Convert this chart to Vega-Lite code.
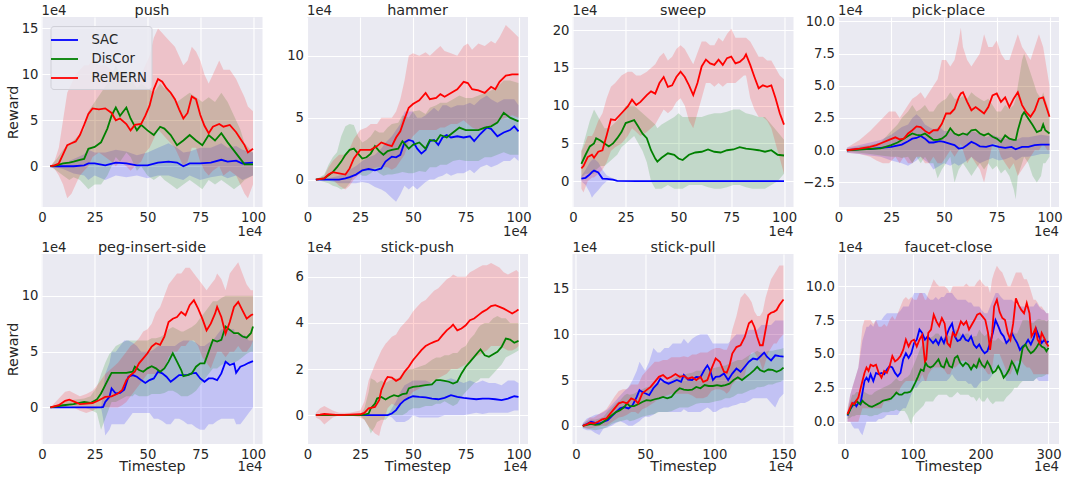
{
"$schema":"https://vega.github.io/schema/vega-lite/v6.json",
"padding":{"left":5.5,"top":3,"right":5,"bottom":5},
"config":{
"view":{"fill":"#EAEAF2","stroke":null},
"axis":{"domain":false,"ticks":false,"tickSize":0,"tickCount":10,"grid":true,"gridColor":"#FFFFFF","gridWidth":1.1,"labelFont":"DejaVu Sans","labelFontSize":13.2,"labelColor":"#262626","titleFont":"DejaVu Sans","titleFontSize":14.4,"titleFontWeight":"normal","titleColor":"#262626","labelPadding":4,"labelOverlap":false,"labelFlush":false,"labelBound":false},
"axisY":{"labelPadding":3.5,"titlePadding":0.5,"labelOverlap":false},
"axisX":{"titleBaseline":"alphabetic","titlePadding":10.5},
"title":{"font":"DejaVu Sans","fontSize":14.4,"fontWeight":"normal","color":"#262626","offset":2.5,"baseline":"alphabetic","frame":"group","dy":17},
"text":{"font":"DejaVu Sans","fontSize":13.2,"color":"#262626"},
"area":{"opacity":0.17},
"line":{"strokeWidth":1.8}
},
"datasets":{
"push":[
{"m":"SAC","x":4,"y":0,"lo":0,"hi":0},{"m":"SAC","x":10,"y":0,"lo":-0.3,"hi":0.3},{"m":"SAC","x":15,"y":0,"lo":-0.8,"hi":0.8},{"m":"SAC","x":20,"y":0.1,"lo":-1,"hi":1.3},{"m":"SAC","x":22,"y":0.3,"lo":-1.5,"hi":1.8},{"m":"SAC","x":25,"y":0.3,"lo":-1,"hi":1.5},{"m":"SAC","x":30,"y":0.1,"lo":-1.5,"hi":1.5},{"m":"SAC","x":35,"y":0.4,"lo":-1,"hi":1.8},{"m":"SAC","x":40,"y":0.3,"lo":-1.2,"hi":1.6},{"m":"SAC","x":45,"y":0.1,"lo":-1,"hi":1.2},{"m":"SAC","x":50,"y":0.1,"lo":-1.3,"hi":1.5},{"m":"SAC","x":55,"y":0.4,"lo":-1,"hi":2},{"m":"SAC","x":60,"y":0.5,"lo":-1,"hi":2.5},{"m":"SAC","x":64,"y":0.4,"lo":-1.3,"hi":2},{"m":"SAC","x":67,"y":0,"lo":-1.5,"hi":1.5},{"m":"SAC","x":70,"y":0.3,"lo":-1,"hi":1.6},{"m":"SAC","x":75,"y":0.3,"lo":-1.5,"hi":2},{"m":"SAC","x":80,"y":0.4,"lo":-1.2,"hi":2},{"m":"SAC","x":85,"y":0.7,"lo":-1,"hi":2.5},{"m":"SAC","x":88,"y":0.5,"lo":-1.3,"hi":2},{"m":"SAC","x":92,"y":0.6,"lo":-1,"hi":2.2},{"m":"SAC","x":95,"y":0.3,"lo":-1.5,"hi":1.8},{"m":"SAC","x":100,"y":0.4,"lo":-1,"hi":1.5},
{"m":"DisCor","x":4,"y":0,"lo":0,"hi":0},{"m":"DisCor","x":7,"y":0.1,"lo":-0.5,"hi":0.8},{"m":"DisCor","x":10,"y":0.3,"lo":-1,"hi":1.8},{"m":"DisCor","x":13,"y":0.4,"lo":-1.5,"hi":2.5},{"m":"DisCor","x":15,"y":0.5,"lo":-1.2,"hi":2.8},{"m":"DisCor","x":18,"y":0.7,"lo":-1.5,"hi":3.5},{"m":"DisCor","x":20,"y":0.8,"lo":-2,"hi":4},{"m":"DisCor","x":22,"y":1.9,"lo":-2.5,"hi":6},{"m":"DisCor","x":25,"y":2.1,"lo":-2,"hi":7},{"m":"DisCor","x":28,"y":2.6,"lo":-2,"hi":8},{"m":"DisCor","x":31,"y":4.1,"lo":-1,"hi":9},{"m":"DisCor","x":33,"y":5.5,"lo":0,"hi":10},{"m":"DisCor","x":35,"y":6.4,"lo":1,"hi":11},{"m":"DisCor","x":37,"y":5.5,"lo":0.5,"hi":10},{"m":"DisCor","x":40,"y":6.4,"lo":1.5,"hi":10.5},{"m":"DisCor","x":42,"y":5.2,"lo":1,"hi":9.5},{"m":"DisCor","x":45,"y":3.9,"lo":-0.5,"hi":8.5},{"m":"DisCor","x":47,"y":4.5,"lo":0,"hi":9},{"m":"DisCor","x":50,"y":3.9,"lo":-1,"hi":8.5},{"m":"DisCor","x":53,"y":3.4,"lo":-1.5,"hi":8},{"m":"DisCor","x":56,"y":4.3,"lo":-1,"hi":9},{"m":"DisCor","x":58,"y":4.1,"lo":-1.5,"hi":8.5},{"m":"DisCor","x":61,"y":3.4,"lo":-2,"hi":8},{"m":"DisCor","x":64,"y":2.3,"lo":-2.5,"hi":7},{"m":"DisCor","x":67,"y":2.8,"lo":-2,"hi":7.5},{"m":"DisCor","x":70,"y":3.4,"lo":-1.5,"hi":8},{"m":"DisCor","x":73,"y":2.8,"lo":-2,"hi":7.5},{"m":"DisCor","x":76,"y":2.3,"lo":-2.5,"hi":7},{"m":"DisCor","x":79,"y":3.4,"lo":-1.5,"hi":7.5},{"m":"DisCor","x":82,"y":2.8,"lo":-2,"hi":7},{"m":"DisCor","x":85,"y":3.6,"lo":-1.5,"hi":8},{"m":"DisCor","x":88,"y":2.6,"lo":-2,"hi":7},{"m":"DisCor","x":91,"y":1.7,"lo":-2.5,"hi":5.5},{"m":"DisCor","x":94,"y":0.8,"lo":-2,"hi":4},{"m":"DisCor","x":96,"y":0.2,"lo":-1.5,"hi":2.5},{"m":"DisCor","x":100,"y":0.2,"lo":-1,"hi":1.5},
{"m":"ReMERN","x":4,"y":0,"lo":0,"hi":0},{"m":"ReMERN","x":6,"y":0.1,"lo":-0.3,"hi":0.6},{"m":"ReMERN","x":8,"y":0.3,"lo":-1,"hi":2},{"m":"ReMERN","x":10,"y":1.3,"lo":-2,"hi":5},{"m":"ReMERN","x":12,"y":2.3,"lo":-3.5,"hi":8},{"m":"ReMERN","x":14,"y":2.5,"lo":-3,"hi":9},{"m":"ReMERN","x":16,"y":2.7,"lo":-2,"hi":10},{"m":"ReMERN","x":18,"y":3.4,"lo":-1,"hi":10.5},{"m":"ReMERN","x":20,"y":4.5,"lo":-0.5,"hi":11},{"m":"ReMERN","x":22,"y":5.7,"lo":0,"hi":11},{"m":"ReMERN","x":24,"y":6.3,"lo":1,"hi":11.5},{"m":"ReMERN","x":27,"y":6.2,"lo":1.5,"hi":11},{"m":"ReMERN","x":30,"y":6.3,"lo":1,"hi":11},{"m":"ReMERN","x":33,"y":5.8,"lo":0.5,"hi":10.5},{"m":"ReMERN","x":35,"y":5,"lo":0,"hi":10},{"m":"ReMERN","x":37,"y":5.2,"lo":0.5,"hi":10.5},{"m":"ReMERN","x":40,"y":4.6,"lo":0,"hi":10},{"m":"ReMERN","x":42,"y":3.9,"lo":-0.5,"hi":9},{"m":"ReMERN","x":44,"y":4.5,"lo":0,"hi":9.5},{"m":"ReMERN","x":47,"y":4.6,"lo":0.5,"hi":10},{"m":"ReMERN","x":49,"y":5.5,"lo":1.5,"hi":11},{"m":"ReMERN","x":51,"y":6.6,"lo":2,"hi":12},{"m":"ReMERN","x":53,"y":8.4,"lo":3,"hi":14},{"m":"ReMERN","x":55,"y":9.5,"lo":4,"hi":15},{"m":"ReMERN","x":57,"y":9.2,"lo":3.5,"hi":14.5},{"m":"ReMERN","x":59,"y":8.5,"lo":3,"hi":14},{"m":"ReMERN","x":61,"y":8,"lo":2.5,"hi":13.5},{"m":"ReMERN","x":63,"y":7.3,"lo":2,"hi":13},{"m":"ReMERN","x":65,"y":6.2,"lo":1,"hi":12},{"m":"ReMERN","x":67,"y":5.2,"lo":0,"hi":11},{"m":"ReMERN","x":69,"y":5.8,"lo":0.5,"hi":11.5},{"m":"ReMERN","x":71,"y":7.6,"lo":2,"hi":13},{"m":"ReMERN","x":73,"y":7.3,"lo":2,"hi":12.5},{"m":"ReMERN","x":75,"y":5.6,"lo":0.5,"hi":11.5},{"m":"ReMERN","x":77,"y":4.4,"lo":-0.5,"hi":10},{"m":"ReMERN","x":79,"y":3.6,"lo":-1,"hi":9},{"m":"ReMERN","x":81,"y":4.3,"lo":-0.5,"hi":10},{"m":"ReMERN","x":84,"y":4.6,"lo":0,"hi":11.5},{"m":"ReMERN","x":86,"y":4.3,"lo":-1,"hi":10.5},{"m":"ReMERN","x":89,"y":4.5,"lo":-0.5,"hi":10.5},{"m":"ReMERN","x":92,"y":3.7,"lo":-1,"hi":9.5},{"m":"ReMERN","x":94,"y":3,"lo":-2,"hi":8.5},{"m":"ReMERN","x":96,"y":2.3,"lo":-3,"hi":7.5},{"m":"ReMERN","x":97.6,"y":1.5,"lo":-3.5,"hi":6.5},{"m":"ReMERN","x":100,"y":1.9,"lo":-2,"hi":6}
],
"hammer":[
{"m":"SAC","x":4,"y":0,"lo":0,"hi":0},{"m":"SAC","x":10,"y":0,"lo":-0.1,"hi":0.1},{"m":"SAC","x":15,"y":0,"lo":-0.3,"hi":0.3},{"m":"SAC","x":18,"y":0.1,"lo":-0.3,"hi":0.5},{"m":"SAC","x":20,"y":0.2,"lo":-0.3,"hi":0.8},{"m":"SAC","x":23,"y":0.4,"lo":-0.3,"hi":1.1},{"m":"SAC","x":26,"y":0.75,"lo":-0.2,"hi":1.5},{"m":"SAC","x":29,"y":0.85,"lo":-0.3,"hi":1.8},{"m":"SAC","x":32,"y":0.75,"lo":-0.6,"hi":2},{"m":"SAC","x":35,"y":0.9,"lo":-0.8,"hi":2.5},{"m":"SAC","x":37,"y":1.45,"lo":-1,"hi":3},{"m":"SAC","x":40,"y":1.85,"lo":-1.5,"hi":3.5},{"m":"SAC","x":42,"y":1.8,"lo":-1.8,"hi":4},{"m":"SAC","x":44,"y":2,"lo":-1.2,"hi":4.5},{"m":"SAC","x":46,"y":3,"lo":-0.5,"hi":5.5},{"m":"SAC","x":48,"y":3.2,"lo":-0.8,"hi":5.5},{"m":"SAC","x":50,"y":3.1,"lo":-0.5,"hi":5.5},{"m":"SAC","x":52,"y":2.5,"lo":-0.8,"hi":5},{"m":"SAC","x":54,"y":2.1,"lo":-0.5,"hi":5},{"m":"SAC","x":56,"y":2.4,"lo":-0.2,"hi":5.2},{"m":"SAC","x":58,"y":3.1,"lo":0,"hi":5.5},{"m":"SAC","x":60,"y":3.2,"lo":0,"hi":5.8},{"m":"SAC","x":62,"y":2.8,"lo":0.2,"hi":5.5},{"m":"SAC","x":64,"y":3.4,"lo":0.3,"hi":6},{"m":"SAC","x":66,"y":3.6,"lo":0.5,"hi":6},{"m":"SAC","x":68,"y":3.4,"lo":0.3,"hi":5.8},{"m":"SAC","x":71,"y":3.5,"lo":0.5,"hi":6},{"m":"SAC","x":74,"y":3.4,"lo":0.5,"hi":6},{"m":"SAC","x":77,"y":3.5,"lo":0.8,"hi":6.2},{"m":"SAC","x":79,"y":3.1,"lo":0.5,"hi":6},{"m":"SAC","x":82,"y":3.7,"lo":1,"hi":6.5},{"m":"SAC","x":85,"y":4.2,"lo":1.2,"hi":6.8},{"m":"SAC","x":87,"y":4.1,"lo":1,"hi":6.5},{"m":"SAC","x":90,"y":3.5,"lo":1.2,"hi":6.2},{"m":"SAC","x":93,"y":3.8,"lo":1.5,"hi":6.5},{"m":"SAC","x":96,"y":4,"lo":1.5,"hi":6.5},{"m":"SAC","x":98,"y":4.3,"lo":1.8,"hi":6.5},{"m":"SAC","x":100,"y":3.9,"lo":1.5,"hi":6},
{"m":"DisCor","x":4,"y":0,"lo":0,"hi":0},{"m":"DisCor","x":8,"y":0.1,"lo":-0.2,"hi":0.4},{"m":"DisCor","x":10,"y":0.35,"lo":-0.3,"hi":1.2},{"m":"DisCor","x":12,"y":0.6,"lo":-0.5,"hi":1.8},{"m":"DisCor","x":14,"y":1,"lo":-0.6,"hi":2.2},{"m":"DisCor","x":16,"y":1.45,"lo":-0.8,"hi":3.5},{"m":"DisCor","x":18,"y":2,"lo":-0.7,"hi":4.3},{"m":"DisCor","x":20,"y":2.4,"lo":-0.3,"hi":4.5},{"m":"DisCor","x":22,"y":2.5,"lo":0.3,"hi":4.4},{"m":"DisCor","x":24,"y":2.1,"lo":0.5,"hi":3.5},{"m":"DisCor","x":26,"y":1.7,"lo":0.3,"hi":3},{"m":"DisCor","x":28,"y":1.8,"lo":0.3,"hi":3.2},{"m":"DisCor","x":30,"y":2.1,"lo":0.5,"hi":3.5},{"m":"DisCor","x":32,"y":2.7,"lo":0.8,"hi":4},{"m":"DisCor","x":34,"y":2.3,"lo":0.5,"hi":3.8},{"m":"DisCor","x":36,"y":2,"lo":0.3,"hi":3.8},{"m":"DisCor","x":38,"y":2.3,"lo":0.4,"hi":4.2},{"m":"DisCor","x":40,"y":2.4,"lo":0.4,"hi":4.5},{"m":"DisCor","x":43,"y":2.5,"lo":0.5,"hi":4.6},{"m":"DisCor","x":45,"y":3.1,"lo":0.6,"hi":5.2},{"m":"DisCor","x":48,"y":2.5,"lo":0.5,"hi":5},{"m":"DisCor","x":50,"y":2.8,"lo":0.5,"hi":5.5},{"m":"DisCor","x":53,"y":3,"lo":0.7,"hi":5.6},{"m":"DisCor","x":56,"y":2.5,"lo":0.6,"hi":5.3},{"m":"DisCor","x":58,"y":3.2,"lo":1,"hi":5.8},{"m":"DisCor","x":61,"y":3.1,"lo":1,"hi":6},{"m":"DisCor","x":63,"y":3.6,"lo":1.2,"hi":6.2},{"m":"DisCor","x":66,"y":3.4,"lo":1.2,"hi":6.2},{"m":"DisCor","x":69,"y":3.8,"lo":1.5,"hi":6.5},{"m":"DisCor","x":72,"y":4.2,"lo":1.6,"hi":6.8},{"m":"DisCor","x":75,"y":4,"lo":1.5,"hi":6.6},{"m":"DisCor","x":78,"y":4,"lo":1.5,"hi":6.6},{"m":"DisCor","x":81,"y":4,"lo":1.5,"hi":6.8},{"m":"DisCor","x":84,"y":4.2,"lo":1.8,"hi":7},{"m":"DisCor","x":87,"y":4.3,"lo":1.8,"hi":7.2},{"m":"DisCor","x":90,"y":4.6,"lo":2,"hi":7.5},{"m":"DisCor","x":93,"y":5.4,"lo":2.2,"hi":8},{"m":"DisCor","x":96,"y":5,"lo":2,"hi":8},{"m":"DisCor","x":100,"y":4.7,"lo":2,"hi":7.8},
{"m":"ReMERN","x":4,"y":0,"lo":0,"hi":0},{"m":"ReMERN","x":8,"y":0.1,"lo":-0.1,"hi":0.3},{"m":"ReMERN","x":10,"y":0.4,"lo":0,"hi":1},{"m":"ReMERN","x":12,"y":0.6,"lo":0,"hi":1.5},{"m":"ReMERN","x":15,"y":0.5,"lo":-0.5,"hi":2},{"m":"ReMERN","x":18,"y":0.4,"lo":-0.8,"hi":2},{"m":"ReMERN","x":20,"y":0.9,"lo":-0.5,"hi":2.5},{"m":"ReMERN","x":22,"y":1.7,"lo":0,"hi":3.3},{"m":"ReMERN","x":25,"y":2.4,"lo":0.5,"hi":4},{"m":"ReMERN","x":28,"y":2.4,"lo":0.8,"hi":4.2},{"m":"ReMERN","x":30,"y":2.4,"lo":0.8,"hi":4.5},{"m":"ReMERN","x":33,"y":2.7,"lo":1,"hi":4.5},{"m":"ReMERN","x":35,"y":3,"lo":1,"hi":5},{"m":"ReMERN","x":38,"y":2.8,"lo":1,"hi":5},{"m":"ReMERN","x":40,"y":2.7,"lo":0.8,"hi":5},{"m":"ReMERN","x":42,"y":3.4,"lo":1,"hi":5.5},{"m":"ReMERN","x":44,"y":3.9,"lo":1.5,"hi":6.5},{"m":"ReMERN","x":46,"y":4.9,"lo":2,"hi":8},{"m":"ReMERN","x":48,"y":5.8,"lo":3,"hi":10},{"m":"ReMERN","x":50,"y":6.1,"lo":3.5,"hi":10.2},{"m":"ReMERN","x":53,"y":6.4,"lo":4,"hi":10},{"m":"ReMERN","x":56,"y":7,"lo":4,"hi":10.3},{"m":"ReMERN","x":58,"y":6.5,"lo":4,"hi":10},{"m":"ReMERN","x":61,"y":6.6,"lo":4,"hi":10.5},{"m":"ReMERN","x":63,"y":6.9,"lo":4.2,"hi":10.8},{"m":"ReMERN","x":65,"y":6.7,"lo":4.2,"hi":10.4},{"m":"ReMERN","x":68,"y":7,"lo":4.5,"hi":10.2},{"m":"ReMERN","x":71,"y":7.3,"lo":4.5,"hi":10},{"m":"ReMERN","x":74,"y":7.9,"lo":4.8,"hi":10.8},{"m":"ReMERN","x":76,"y":7.8,"lo":4.5,"hi":11},{"m":"ReMERN","x":78,"y":7.3,"lo":4.2,"hi":10.5},{"m":"ReMERN","x":81,"y":7.2,"lo":4,"hi":11},{"m":"ReMERN","x":84,"y":7,"lo":4,"hi":10.8},{"m":"ReMERN","x":87,"y":7.5,"lo":4.3,"hi":11.2},{"m":"ReMERN","x":89,"y":7.3,"lo":4.5,"hi":11},{"m":"ReMERN","x":91,"y":7.9,"lo":4.8,"hi":11.5},{"m":"ReMERN","x":94,"y":8.4,"lo":5,"hi":12.5},{"m":"ReMERN","x":97,"y":8.5,"lo":5.2,"hi":12},{"m":"ReMERN","x":100,"y":8.5,"lo":5,"hi":11.5}
],
"sweep":[
{"m":"SAC","x":4,"y":0.35,"lo":0,"hi":0.7},{"m":"SAC","x":6,"y":0.45,"lo":-0.5,"hi":1.5},{"m":"SAC","x":8,"y":0.9,"lo":-1.5,"hi":2.5},{"m":"SAC","x":9,"y":1.2,"lo":-2.2,"hi":2.8},{"m":"SAC","x":10,"y":1.4,"lo":-1.8,"hi":3},{"m":"SAC","x":12,"y":1.15,"lo":-1.2,"hi":2.5},{"m":"SAC","x":14,"y":0.35,"lo":-0.5,"hi":1.5},{"m":"SAC","x":16,"y":0.3,"lo":0,"hi":0.8},{"m":"SAC","x":19,"y":0.2,"lo":0.05,"hi":0.35},{"m":"SAC","x":21,"y":0.05,"lo":0,"hi":0.1},{"m":"SAC","x":30,"y":0,"lo":0,"hi":0},{"m":"SAC","x":40,"y":0,"lo":0,"hi":0},{"m":"SAC","x":50,"y":0,"lo":0,"hi":0},{"m":"SAC","x":60,"y":0.02,"lo":0,"hi":0.05},{"m":"SAC","x":70,"y":0.02,"lo":0,"hi":0.05},{"m":"SAC","x":80,"y":0,"lo":0,"hi":0},{"m":"SAC","x":90,"y":0,"lo":0,"hi":0},{"m":"SAC","x":100,"y":0,"lo":0,"hi":0},
{"m":"DisCor","x":4,"y":2.3,"lo":0.5,"hi":4},{"m":"DisCor","x":6,"y":3.5,"lo":1,"hi":6},{"m":"DisCor","x":8,"y":4.6,"lo":1,"hi":8},{"m":"DisCor","x":10,"y":5,"lo":1,"hi":9.5},{"m":"DisCor","x":11,"y":5.7,"lo":1.5,"hi":9},{"m":"DisCor","x":13,"y":5.4,"lo":2,"hi":8},{"m":"DisCor","x":15,"y":5,"lo":2,"hi":7},{"m":"DisCor","x":17,"y":4.6,"lo":2.5,"hi":7},{"m":"DisCor","x":19,"y":5,"lo":3,"hi":7.5},{"m":"DisCor","x":21,"y":5.7,"lo":3.5,"hi":8},{"m":"DisCor","x":23,"y":6.5,"lo":4.5,"hi":9},{"m":"DisCor","x":25,"y":7.7,"lo":5,"hi":10},{"m":"DisCor","x":27,"y":7.9,"lo":5.5,"hi":10},{"m":"DisCor","x":29,"y":8.1,"lo":6,"hi":10},{"m":"DisCor","x":31,"y":7.2,"lo":5,"hi":9.5},{"m":"DisCor","x":33,"y":6.3,"lo":4,"hi":9},{"m":"DisCor","x":35,"y":5.7,"lo":2.5,"hi":8.5},{"m":"DisCor","x":37,"y":4.1,"lo":0,"hi":8},{"m":"DisCor","x":39,"y":3,"lo":-1,"hi":7.5},{"m":"DisCor","x":40,"y":2.6,"lo":-1,"hi":7},{"m":"DisCor","x":42,"y":3.1,"lo":-1,"hi":7.5},{"m":"DisCor","x":45,"y":3.7,"lo":-0.5,"hi":8},{"m":"DisCor","x":48,"y":3.5,"lo":-1,"hi":8.5},{"m":"DisCor","x":50,"y":3,"lo":-1,"hi":9},{"m":"DisCor","x":52,"y":2.8,"lo":-1,"hi":8.5},{"m":"DisCor","x":55,"y":3.5,"lo":-0.5,"hi":8.5},{"m":"DisCor","x":58,"y":3.8,"lo":-0.5,"hi":8.5},{"m":"DisCor","x":61,"y":3.9,"lo":-0.5,"hi":8.5},{"m":"DisCor","x":64,"y":4.2,"lo":-0.8,"hi":8.8},{"m":"DisCor","x":67,"y":3.9,"lo":-1,"hi":9},{"m":"DisCor","x":70,"y":3.8,"lo":-1,"hi":9},{"m":"DisCor","x":73,"y":4.1,"lo":-0.8,"hi":9.2},{"m":"DisCor","x":76,"y":4.2,"lo":-0.5,"hi":9.5},{"m":"DisCor","x":79,"y":4.5,"lo":-0.5,"hi":9.5},{"m":"DisCor","x":82,"y":4.3,"lo":-0.8,"hi":9},{"m":"DisCor","x":85,"y":4.2,"lo":-1,"hi":8.8},{"m":"DisCor","x":88,"y":4.1,"lo":-1,"hi":8.5},{"m":"DisCor","x":91,"y":3.9,"lo":-1,"hi":8.5},{"m":"DisCor","x":94,"y":4.1,"lo":-0.5,"hi":7.5},{"m":"DisCor","x":97,"y":3.5,"lo":0,"hi":6.5},{"m":"DisCor","x":100,"y":3.4,"lo":1,"hi":5.5},
{"m":"ReMERN","x":4,"y":1.7,"lo":-1,"hi":4},{"m":"ReMERN","x":5,"y":2,"lo":-1.5,"hi":4.5},{"m":"ReMERN","x":7,"y":3.2,"lo":0,"hi":6},{"m":"ReMERN","x":9,"y":3.5,"lo":0.5,"hi":6},{"m":"ReMERN","x":10,"y":3.1,"lo":0.5,"hi":6.5},{"m":"ReMERN","x":12,"y":3.9,"lo":1,"hi":8},{"m":"ReMERN","x":14,"y":4.1,"lo":1.5,"hi":9},{"m":"ReMERN","x":16,"y":6.1,"lo":2.5,"hi":11},{"m":"ReMERN","x":18,"y":8.2,"lo":4,"hi":12.5},{"m":"ReMERN","x":20,"y":8.1,"lo":4.5,"hi":13},{"m":"ReMERN","x":23,"y":9,"lo":5,"hi":14},{"m":"ReMERN","x":26,"y":9.9,"lo":6,"hi":14.5},{"m":"ReMERN","x":28,"y":10.8,"lo":7,"hi":14.5},{"m":"ReMERN","x":30,"y":10.1,"lo":6.5,"hi":14},{"m":"ReMERN","x":32,"y":10.5,"lo":6,"hi":14},{"m":"ReMERN","x":35,"y":11.4,"lo":6.5,"hi":14.5},{"m":"ReMERN","x":37,"y":11.9,"lo":7,"hi":15},{"m":"ReMERN","x":39,"y":11.6,"lo":7.5,"hi":15.5},{"m":"ReMERN","x":41,"y":13,"lo":8.5,"hi":16.5},{"m":"ReMERN","x":43,"y":13.8,"lo":9.5,"hi":17},{"m":"ReMERN","x":45,"y":12.5,"lo":9,"hi":16},{"m":"ReMERN","x":47,"y":12.7,"lo":9.5,"hi":16.5},{"m":"ReMERN","x":49,"y":13.8,"lo":10.5,"hi":17.5},{"m":"ReMERN","x":51,"y":14.5,"lo":11,"hi":18},{"m":"ReMERN","x":53,"y":13.8,"lo":10,"hi":17.5},{"m":"ReMERN","x":55,"y":12.7,"lo":8,"hi":16.5},{"m":"ReMERN","x":57,"y":11.4,"lo":7,"hi":15.5},{"m":"ReMERN","x":59,"y":13,"lo":9,"hi":17},{"m":"ReMERN","x":61,"y":15.2,"lo":11,"hi":18.5},{"m":"ReMERN","x":63,"y":16.1,"lo":13,"hi":18.5},{"m":"ReMERN","x":65,"y":15.6,"lo":13,"hi":18},{"m":"ReMERN","x":67,"y":15.4,"lo":12.5,"hi":18},{"m":"ReMERN","x":69,"y":16.1,"lo":13,"hi":19},{"m":"ReMERN","x":71,"y":15.4,"lo":12.5,"hi":18.5},{"m":"ReMERN","x":73,"y":16.3,"lo":13,"hi":19.5},{"m":"ReMERN","x":75,"y":16.5,"lo":13,"hi":20.2},{"m":"ReMERN","x":77,"y":15.6,"lo":13,"hi":19},{"m":"ReMERN","x":79,"y":15.8,"lo":13.5,"hi":19},{"m":"ReMERN","x":81,"y":16.3,"lo":14,"hi":19},{"m":"ReMERN","x":82,"y":16.8,"lo":14,"hi":19},{"m":"ReMERN","x":84,"y":15.4,"lo":11,"hi":18.5},{"m":"ReMERN","x":86,"y":13.8,"lo":9.5,"hi":17.5},{"m":"ReMERN","x":88,"y":12.3,"lo":8.5,"hi":16.5},{"m":"ReMERN","x":90,"y":12.7,"lo":8.5,"hi":16.5},{"m":"ReMERN","x":92,"y":12.5,"lo":8,"hi":16},{"m":"ReMERN","x":94,"y":12.7,"lo":7,"hi":16},{"m":"ReMERN","x":96,"y":11,"lo":5,"hi":15},{"m":"ReMERN","x":98,"y":9,"lo":3,"hi":14},{"m":"ReMERN","x":100,"y":7.5,"lo":1,"hi":13.5}
],
"pickplace":[
{"m":"SAC","x":4,"y":0,"lo":-0.2,"hi":0.2},{"m":"SAC","x":10,"y":0.08,"lo":-0.3,"hi":0.4},{"m":"SAC","x":15,"y":0.08,"lo":-0.4,"hi":0.6},{"m":"SAC","x":20,"y":0.18,"lo":-0.5,"hi":0.8},{"m":"SAC","x":25,"y":0.26,"lo":-0.8,"hi":1.2},{"m":"SAC","x":30,"y":0.44,"lo":-1,"hi":1.8},{"m":"SAC","x":33,"y":0.7,"lo":-1.2,"hi":2},{"m":"SAC","x":35,"y":0.9,"lo":-1,"hi":2.5},{"m":"SAC","x":37,"y":0.95,"lo":-0.8,"hi":2.8},{"m":"SAC","x":39,"y":1.1,"lo":-0.5,"hi":2.5},{"m":"SAC","x":41,"y":0.9,"lo":-0.8,"hi":2},{"m":"SAC","x":43,"y":0.6,"lo":-1,"hi":1.8},{"m":"SAC","x":45,"y":0.6,"lo":-1.5,"hi":1.6},{"m":"SAC","x":48,"y":0.7,"lo":-1.2,"hi":1.8},{"m":"SAC","x":50,"y":0.65,"lo":-1,"hi":1.5},{"m":"SAC","x":53,"y":0.5,"lo":-1.2,"hi":1.5},{"m":"SAC","x":55,"y":0.4,"lo":-1,"hi":1.3},{"m":"SAC","x":57,"y":0.13,"lo":-1.2,"hi":1},{"m":"SAC","x":59,"y":0.18,"lo":-1,"hi":1.2},{"m":"SAC","x":61,"y":0.4,"lo":-0.8,"hi":1.4},{"m":"SAC","x":63,"y":0.65,"lo":-0.5,"hi":1.5},{"m":"SAC","x":65,"y":0.5,"lo":-0.8,"hi":1.4},{"m":"SAC","x":67,"y":0.3,"lo":-1,"hi":1.2},{"m":"SAC","x":70,"y":0.26,"lo":-0.8,"hi":1},{"m":"SAC","x":73,"y":0.4,"lo":-0.6,"hi":1.2},{"m":"SAC","x":76,"y":0.26,"lo":-0.8,"hi":1},{"m":"SAC","x":79,"y":0.18,"lo":-0.7,"hi":0.9},{"m":"SAC","x":82,"y":0.26,"lo":-0.5,"hi":0.9},{"m":"SAC","x":84,"y":0.08,"lo":-0.8,"hi":0.8},{"m":"SAC","x":87,"y":0.26,"lo":-0.5,"hi":1},{"m":"SAC","x":90,"y":0.26,"lo":-0.5,"hi":1},{"m":"SAC","x":93,"y":0.4,"lo":-0.4,"hi":1.1},{"m":"SAC","x":96,"y":0.44,"lo":-0.3,"hi":1.2},{"m":"SAC","x":100,"y":0.44,"lo":-0.3,"hi":1.1},
{"m":"DisCor","x":4,"y":0,"lo":-0.1,"hi":0.1},{"m":"DisCor","x":10,"y":0.05,"lo":-0.2,"hi":0.3},{"m":"DisCor","x":15,"y":0.1,"lo":-0.3,"hi":0.4},{"m":"DisCor","x":20,"y":0.15,"lo":-0.4,"hi":0.6},{"m":"DisCor","x":25,"y":0.4,"lo":-0.5,"hi":1.5},{"m":"DisCor","x":28,"y":0.6,"lo":-0.5,"hi":2},{"m":"DisCor","x":30,"y":0.8,"lo":-0.6,"hi":2.5},{"m":"DisCor","x":33,"y":1.1,"lo":-0.5,"hi":3},{"m":"DisCor","x":35,"y":1.3,"lo":-1,"hi":3.5},{"m":"DisCor","x":37,"y":1.2,"lo":-0.5,"hi":3},{"m":"DisCor","x":39,"y":1.15,"lo":-1,"hi":3.2},{"m":"DisCor","x":41,"y":1.3,"lo":-0.5,"hi":3.5},{"m":"DisCor","x":43,"y":1.05,"lo":-1,"hi":3},{"m":"DisCor","x":45,"y":0.8,"lo":-1,"hi":3},{"m":"DisCor","x":47,"y":0.8,"lo":-2.2,"hi":3.5},{"m":"DisCor","x":49,"y":0.9,"lo":-1.5,"hi":3.8},{"m":"DisCor","x":51,"y":1.15,"lo":-1,"hi":4},{"m":"DisCor","x":53,"y":1.7,"lo":-0.5,"hi":4.5},{"m":"DisCor","x":55,"y":1.3,"lo":-2.5,"hi":4},{"m":"DisCor","x":57,"y":1.15,"lo":-1.5,"hi":4},{"m":"DisCor","x":59,"y":1.3,"lo":-1,"hi":4.2},{"m":"DisCor","x":61,"y":1.2,"lo":-1.5,"hi":4},{"m":"DisCor","x":63,"y":1.55,"lo":-2,"hi":4.5},{"m":"DisCor","x":65,"y":1.6,"lo":-1.5,"hi":4.2},{"m":"DisCor","x":67,"y":1.3,"lo":-1,"hi":4},{"m":"DisCor","x":69,"y":1.15,"lo":-1.5,"hi":3.8},{"m":"DisCor","x":71,"y":1.3,"lo":-1,"hi":4},{"m":"DisCor","x":73,"y":1.05,"lo":-1.5,"hi":3.5},{"m":"DisCor","x":75,"y":0.9,"lo":-1.2,"hi":3},{"m":"DisCor","x":77,"y":0.65,"lo":-1.8,"hi":3},{"m":"DisCor","x":79,"y":1.15,"lo":-1.5,"hi":3.5},{"m":"DisCor","x":81,"y":0.9,"lo":-2,"hi":3.2},{"m":"DisCor","x":83,"y":0.8,"lo":-3,"hi":3.5},{"m":"DisCor","x":84,"y":0.8,"lo":-3.8,"hi":4},{"m":"DisCor","x":85,"y":1.55,"lo":-2,"hi":5},{"m":"DisCor","x":87,"y":2.7,"lo":-1,"hi":7},{"m":"DisCor","x":88,"y":2.95,"lo":-0.5,"hi":7.5},{"m":"DisCor","x":90,"y":2.45,"lo":-1,"hi":6.5},{"m":"DisCor","x":92,"y":1.95,"lo":-2,"hi":5.5},{"m":"DisCor","x":94,"y":1.4,"lo":-2.5,"hi":4.5},{"m":"DisCor","x":96,"y":1.55,"lo":-2,"hi":4},{"m":"DisCor","x":97,"y":2,"lo":-1,"hi":4.5},{"m":"DisCor","x":98,"y":1.55,"lo":-1,"hi":4},{"m":"DisCor","x":100,"y":1.3,"lo":-0.5,"hi":3},
{"m":"ReMERN","x":4,"y":0,"lo":-0.2,"hi":0.2},{"m":"ReMERN","x":10,"y":0.13,"lo":-0.3,"hi":0.8},{"m":"ReMERN","x":15,"y":0.26,"lo":-0.5,"hi":1.5},{"m":"ReMERN","x":18,"y":0.4,"lo":-0.8,"hi":2},{"m":"ReMERN","x":21,"y":0.6,"lo":-1,"hi":2.5},{"m":"ReMERN","x":24,"y":0.8,"lo":-1,"hi":3},{"m":"ReMERN","x":27,"y":1,"lo":-0.5,"hi":3},{"m":"ReMERN","x":29,"y":0.85,"lo":-1,"hi":2.5},{"m":"ReMERN","x":31,"y":0.9,"lo":-0.5,"hi":3},{"m":"ReMERN","x":33,"y":1.3,"lo":-1,"hi":3.5},{"m":"ReMERN","x":35,"y":1.55,"lo":-1,"hi":4},{"m":"ReMERN","x":37,"y":1.85,"lo":-0.5,"hi":4.2},{"m":"ReMERN","x":39,"y":1.8,"lo":-0.5,"hi":4.5},{"m":"ReMERN","x":41,"y":1.5,"lo":-1,"hi":4},{"m":"ReMERN","x":43,"y":1.3,"lo":-1,"hi":4.5},{"m":"ReMERN","x":45,"y":1.55,"lo":-0.5,"hi":5},{"m":"ReMERN","x":47,"y":1.55,"lo":-1,"hi":5.5},{"m":"ReMERN","x":49,"y":2.05,"lo":-1,"hi":7},{"m":"ReMERN","x":51,"y":2.85,"lo":-0.5,"hi":7},{"m":"ReMERN","x":53,"y":2.85,"lo":0,"hi":6.5},{"m":"ReMERN","x":55,"y":3.2,"lo":-0.5,"hi":7},{"m":"ReMERN","x":57,"y":4.1,"lo":0,"hi":8.5},{"m":"ReMERN","x":58,"y":4.4,"lo":0.5,"hi":9.5},{"m":"ReMERN","x":59,"y":4.5,"lo":0,"hi":8},{"m":"ReMERN","x":61,"y":3.75,"lo":-1,"hi":7},{"m":"ReMERN","x":63,"y":3.1,"lo":-0.5,"hi":6.5},{"m":"ReMERN","x":65,"y":3.35,"lo":-1,"hi":7},{"m":"ReMERN","x":67,"y":3.1,"lo":-1.5,"hi":7.5},{"m":"ReMERN","x":69,"y":2.85,"lo":-2.5,"hi":9},{"m":"ReMERN","x":71,"y":3.35,"lo":-1,"hi":8},{"m":"ReMERN","x":73,"y":4.25,"lo":0.5,"hi":8},{"m":"ReMERN","x":75,"y":4.4,"lo":0.5,"hi":8.5},{"m":"ReMERN","x":77,"y":3.75,"lo":-0.5,"hi":7.5},{"m":"ReMERN","x":79,"y":4.1,"lo":-1,"hi":7},{"m":"ReMERN","x":81,"y":3.35,"lo":-1.5,"hi":7},{"m":"ReMERN","x":83,"y":4,"lo":-1,"hi":8},{"m":"ReMERN","x":85,"y":4.5,"lo":-2,"hi":9},{"m":"ReMERN","x":87,"y":3.5,"lo":-1.5,"hi":8},{"m":"ReMERN","x":89,"y":2.95,"lo":-1,"hi":7.5},{"m":"ReMERN","x":91,"y":2.6,"lo":-0.5,"hi":7},{"m":"ReMERN","x":93,"y":3.1,"lo":0,"hi":8},{"m":"ReMERN","x":95,"y":4,"lo":0,"hi":9},{"m":"ReMERN","x":97,"y":4.1,"lo":0.5,"hi":8},{"m":"ReMERN","x":99,"y":3.1,"lo":0,"hi":6},{"m":"ReMERN","x":100,"y":2.6,"lo":0,"hi":5}
],
"peg":[
{"m":"SAC","x":4,"y":0,"lo":0,"hi":0},{"m":"SAC","x":15,"y":0,"lo":0,"hi":0},{"m":"SAC","x":28,"y":0,"lo":0,"hi":0},{"m":"SAC","x":29,"y":0.05,"lo":-1,"hi":1.5},{"m":"SAC","x":30,"y":0.5,"lo":-2.5,"hi":3},{"m":"SAC","x":32,"y":0.95,"lo":-2,"hi":4},{"m":"SAC","x":33,"y":1.7,"lo":-1.5,"hi":5},{"m":"SAC","x":35,"y":1.25,"lo":-1.5,"hi":5},{"m":"SAC","x":37,"y":1.3,"lo":-1.5,"hi":5.5},{"m":"SAC","x":39,"y":1.6,"lo":-1.5,"hi":6},{"m":"SAC","x":41,"y":2.75,"lo":-1,"hi":6},{"m":"SAC","x":43,"y":2.9,"lo":-0.5,"hi":5.8},{"m":"SAC","x":45,"y":2.75,"lo":-0.5,"hi":5.5},{"m":"SAC","x":47,"y":2.45,"lo":-0.5,"hi":5},{"m":"SAC","x":49,"y":2.2,"lo":-0.5,"hi":5},{"m":"SAC","x":51,"y":2.45,"lo":-0.5,"hi":5},{"m":"SAC","x":53,"y":2.6,"lo":-1,"hi":5.2},{"m":"SAC","x":55,"y":3.2,"lo":-1,"hi":5.5},{"m":"SAC","x":57,"y":3.05,"lo":-1.2,"hi":5.5},{"m":"SAC","x":59,"y":2.75,"lo":-1.5,"hi":5.5},{"m":"SAC","x":61,"y":2.3,"lo":-1.5,"hi":5.5},{"m":"SAC","x":63,"y":2.6,"lo":-1,"hi":5.5},{"m":"SAC","x":65,"y":2.9,"lo":-1,"hi":5.8},{"m":"SAC","x":67,"y":2.9,"lo":-1.2,"hi":6},{"m":"SAC","x":69,"y":2.9,"lo":-1.5,"hi":6},{"m":"SAC","x":71,"y":3.05,"lo":-1.5,"hi":6},{"m":"SAC","x":73,"y":3.1,"lo":-1.8,"hi":5.8},{"m":"SAC","x":75,"y":2.6,"lo":-2,"hi":5.5},{"m":"SAC","x":77,"y":2.3,"lo":-2,"hi":5.5},{"m":"SAC","x":79,"y":2.6,"lo":-1.5,"hi":5.8},{"m":"SAC","x":81,"y":2.6,"lo":-1.5,"hi":6},{"m":"SAC","x":83,"y":2.45,"lo":-1.2,"hi":6.5},{"m":"SAC","x":85,"y":3.05,"lo":-1,"hi":7},{"m":"SAC","x":87,"y":4.1,"lo":-1,"hi":7},{"m":"SAC","x":89,"y":3.8,"lo":-1,"hi":7},{"m":"SAC","x":91,"y":3.95,"lo":-1,"hi":7},{"m":"SAC","x":92,"y":3.1,"lo":-1.5,"hi":6.5},{"m":"SAC","x":94,"y":3.65,"lo":-1.5,"hi":6.5},{"m":"SAC","x":96,"y":3.8,"lo":-1,"hi":6.5},{"m":"SAC","x":98,"y":4,"lo":-0.5,"hi":6},{"m":"SAC","x":100,"y":4.15,"lo":0,"hi":6},
{"m":"DisCor","x":4,"y":0,"lo":0,"hi":0},{"m":"DisCor","x":10,"y":0.2,"lo":0,"hi":0.5},{"m":"DisCor","x":15,"y":0.3,"lo":0,"hi":0.7},{"m":"DisCor","x":20,"y":0.5,"lo":0,"hi":0.8},{"m":"DisCor","x":23,"y":0.4,"lo":-0.2,"hi":1},{"m":"DisCor","x":26,"y":0.7,"lo":-0.5,"hi":1.8},{"m":"DisCor","x":28,"y":1.25,"lo":-2,"hi":3},{"m":"DisCor","x":30,"y":2,"lo":-1,"hi":4},{"m":"DisCor","x":32,"y":2.75,"lo":0,"hi":4.8},{"m":"DisCor","x":33,"y":3.1,"lo":0.5,"hi":5},{"m":"DisCor","x":35,"y":3.1,"lo":0.5,"hi":5.5},{"m":"DisCor","x":40,"y":3.1,"lo":1,"hi":6},{"m":"DisCor","x":43,"y":3.2,"lo":1,"hi":6},{"m":"DisCor","x":44,"y":3.65,"lo":1.2,"hi":6},{"m":"DisCor","x":46,"y":3.35,"lo":1,"hi":6},{"m":"DisCor","x":48,"y":3.2,"lo":1,"hi":6},{"m":"DisCor","x":50,"y":3.5,"lo":1,"hi":6},{"m":"DisCor","x":52,"y":3.7,"lo":1.2,"hi":6.2},{"m":"DisCor","x":54,"y":3.5,"lo":1.2,"hi":6.2},{"m":"DisCor","x":56,"y":3.2,"lo":1.2,"hi":6.3},{"m":"DisCor","x":58,"y":3.5,"lo":1.3,"hi":6.5},{"m":"DisCor","x":60,"y":4.1,"lo":1.5,"hi":7},{"m":"DisCor","x":62,"y":4.85,"lo":1.5,"hi":7.2},{"m":"DisCor","x":64,"y":4.1,"lo":1.3,"hi":7},{"m":"DisCor","x":66,"y":3.35,"lo":1,"hi":6.8},{"m":"DisCor","x":67,"y":2.8,"lo":1,"hi":6.8},{"m":"DisCor","x":69,"y":2.9,"lo":1,"hi":7},{"m":"DisCor","x":71,"y":3.05,"lo":1.2,"hi":7.2},{"m":"DisCor","x":73,"y":3.65,"lo":1.5,"hi":7.5},{"m":"DisCor","x":75,"y":3.95,"lo":2,"hi":8},{"m":"DisCor","x":77,"y":3.95,"lo":2.5,"hi":8.5},{"m":"DisCor","x":79,"y":5,"lo":3,"hi":9},{"m":"DisCor","x":81,"y":6.05,"lo":3.5,"hi":9.5},{"m":"DisCor","x":83,"y":5.9,"lo":3.5,"hi":9.5},{"m":"DisCor","x":85,"y":6.05,"lo":3.8,"hi":9.8},{"m":"DisCor","x":87,"y":7.25,"lo":4,"hi":10},{"m":"DisCor","x":89,"y":6.95,"lo":4,"hi":10},{"m":"DisCor","x":91,"y":6.65,"lo":4,"hi":10},{"m":"DisCor","x":93,"y":6.65,"lo":4.2,"hi":10},{"m":"DisCor","x":95,"y":6.35,"lo":4.5,"hi":10},{"m":"DisCor","x":97,"y":6.25,"lo":4.8,"hi":10},{"m":"DisCor","x":99,"y":6.65,"lo":5,"hi":10},{"m":"DisCor","x":100,"y":7.25,"lo":5,"hi":10},
{"m":"ReMERN","x":4,"y":0,"lo":0,"hi":0},{"m":"ReMERN","x":8,"y":0.2,"lo":0,"hi":0.8},{"m":"ReMERN","x":11,"y":0.6,"lo":0,"hi":1.4},{"m":"ReMERN","x":13,"y":0.7,"lo":0.2,"hi":1.5},{"m":"ReMERN","x":15,"y":0.55,"lo":0,"hi":1.3},{"m":"ReMERN","x":18,"y":0.3,"lo":-0.3,"hi":1},{"m":"ReMERN","x":21,"y":0.35,"lo":-0.5,"hi":1.2},{"m":"ReMERN","x":24,"y":0.4,"lo":-0.3,"hi":1.5},{"m":"ReMERN","x":27,"y":0.65,"lo":0,"hi":2.2},{"m":"ReMERN","x":30,"y":0.95,"lo":0,"hi":3},{"m":"ReMERN","x":33,"y":1,"lo":0,"hi":3.5},{"m":"ReMERN","x":36,"y":1.25,"lo":0,"hi":4},{"m":"ReMERN","x":38,"y":1.55,"lo":0.2,"hi":4.5},{"m":"ReMERN","x":40,"y":2.45,"lo":0.5,"hi":5},{"m":"ReMERN","x":42,"y":2.9,"lo":1,"hi":5.5},{"m":"ReMERN","x":44,"y":3.2,"lo":1.5,"hi":5.8},{"m":"ReMERN","x":46,"y":3.95,"lo":2,"hi":6.2},{"m":"ReMERN","x":48,"y":4.4,"lo":2.5,"hi":6.8},{"m":"ReMERN","x":50,"y":4.85,"lo":3,"hi":7},{"m":"ReMERN","x":52,"y":5.45,"lo":3,"hi":7.5},{"m":"ReMERN","x":54,"y":5.75,"lo":3,"hi":8.5},{"m":"ReMERN","x":56,"y":5.6,"lo":3,"hi":9},{"m":"ReMERN","x":58,"y":6.35,"lo":3.5,"hi":10},{"m":"ReMERN","x":60,"y":7.65,"lo":4.5,"hi":11},{"m":"ReMERN","x":62,"y":7.95,"lo":5,"hi":11.5},{"m":"ReMERN","x":64,"y":8.1,"lo":5,"hi":12},{"m":"ReMERN","x":66,"y":8.55,"lo":5.5,"hi":12},{"m":"ReMERN","x":68,"y":8.25,"lo":5.5,"hi":12.5},{"m":"ReMERN","x":70,"y":9.15,"lo":6,"hi":12.5},{"m":"ReMERN","x":72,"y":9.6,"lo":6,"hi":12},{"m":"ReMERN","x":74,"y":8.85,"lo":5.5,"hi":11.5},{"m":"ReMERN","x":76,"y":7.95,"lo":4.5,"hi":11},{"m":"ReMERN","x":78,"y":6.9,"lo":4,"hi":10.5},{"m":"ReMERN","x":80,"y":7.5,"lo":3.5,"hi":11},{"m":"ReMERN","x":82,"y":8.4,"lo":4.5,"hi":11.5},{"m":"ReMERN","x":83,"y":9,"lo":5,"hi":12},{"m":"ReMERN","x":85,"y":8.1,"lo":5,"hi":11.5},{"m":"ReMERN","x":87,"y":6.6,"lo":4.5,"hi":10.5},{"m":"ReMERN","x":89,"y":7.65,"lo":5,"hi":12},{"m":"ReMERN","x":91,"y":9,"lo":5,"hi":12.5},{"m":"ReMERN","x":93,"y":9.45,"lo":5.5,"hi":13},{"m":"ReMERN","x":95,"y":8.7,"lo":5,"hi":12},{"m":"ReMERN","x":97,"y":7.95,"lo":5,"hi":11},{"m":"ReMERN","x":99,"y":8.25,"lo":5.5,"hi":10.5},{"m":"ReMERN","x":100,"y":8.35,"lo":6,"hi":10.5}
],
"stickpush":[
{"m":"SAC","x":4,"y":0,"lo":0,"hi":0},{"m":"SAC","x":20,"y":0,"lo":0,"hi":0},{"m":"SAC","x":38,"y":0,"lo":0,"hi":0},{"m":"SAC","x":40,"y":0.07,"lo":-0.1,"hi":0.3},{"m":"SAC","x":42,"y":0.22,"lo":-0.3,"hi":0.6},{"m":"SAC","x":44,"y":0.48,"lo":-0.3,"hi":1},{"m":"SAC","x":46,"y":0.65,"lo":-0.3,"hi":1.3},{"m":"SAC","x":48,"y":0.75,"lo":-0.2,"hi":1.4},{"m":"SAC","x":50,"y":0.82,"lo":0,"hi":1.5},{"m":"SAC","x":53,"y":0.79,"lo":-0.1,"hi":1.5},{"m":"SAC","x":56,"y":0.77,"lo":-0.1,"hi":1.5},{"m":"SAC","x":59,"y":0.72,"lo":-0.1,"hi":1.4},{"m":"SAC","x":62,"y":0.69,"lo":-0.1,"hi":1.5},{"m":"SAC","x":65,"y":0.75,"lo":0,"hi":1.5},{"m":"SAC","x":68,"y":0.87,"lo":0,"hi":1.6},{"m":"SAC","x":71,"y":0.79,"lo":0,"hi":1.5},{"m":"SAC","x":74,"y":0.75,"lo":0,"hi":1.4},{"m":"SAC","x":77,"y":0.72,"lo":0.05,"hi":1.5},{"m":"SAC","x":80,"y":0.69,"lo":0.1,"hi":1.4},{"m":"SAC","x":83,"y":0.72,"lo":0.05,"hi":1.5},{"m":"SAC","x":86,"y":0.72,"lo":0.1,"hi":1.4},{"m":"SAC","x":89,"y":0.69,"lo":0.1,"hi":1.4},{"m":"SAC","x":92,"y":0.65,"lo":0.1,"hi":1.3},{"m":"SAC","x":95,"y":0.72,"lo":0.1,"hi":1.5},{"m":"SAC","x":98,"y":0.82,"lo":0.2,"hi":1.5},{"m":"SAC","x":100,"y":0.79,"lo":0.2,"hi":1.4},
{"m":"DisCor","x":4,"y":0,"lo":0,"hi":0},{"m":"DisCor","x":15,"y":0,"lo":0,"hi":0},{"m":"DisCor","x":25,"y":0,"lo":0,"hi":0},{"m":"DisCor","x":27,"y":0.02,"lo":-0.2,"hi":0.3},{"m":"DisCor","x":29,"y":0.07,"lo":-0.5,"hi":1},{"m":"DisCor","x":30,"y":0.29,"lo":-0.8,"hi":1.6},{"m":"DisCor","x":32,"y":0.5,"lo":-0.5,"hi":1.5},{"m":"DisCor","x":33,"y":0.72,"lo":-0.3,"hi":1.4},{"m":"DisCor","x":35,"y":0.79,"lo":-0.2,"hi":1.5},{"m":"DisCor","x":37,"y":0.68,"lo":-0.2,"hi":1.4},{"m":"DisCor","x":39,"y":0.79,"lo":0,"hi":1.5},{"m":"DisCor","x":41,"y":0.87,"lo":0,"hi":1.6},{"m":"DisCor","x":43,"y":0.82,"lo":0,"hi":1.6},{"m":"DisCor","x":45,"y":0.91,"lo":0,"hi":1.8},{"m":"DisCor","x":47,"y":0.94,"lo":0.1,"hi":1.9},{"m":"DisCor","x":48,"y":1.16,"lo":0.2,"hi":2},{"m":"DisCor","x":50,"y":1.23,"lo":0.3,"hi":2},{"m":"DisCor","x":53,"y":1.26,"lo":0.3,"hi":2.1},{"m":"DisCor","x":56,"y":1.3,"lo":0.4,"hi":2.2},{"m":"DisCor","x":59,"y":1.34,"lo":0.4,"hi":2.4},{"m":"DisCor","x":61,"y":1.52,"lo":0.5,"hi":2.5},{"m":"DisCor","x":63,"y":1.52,"lo":0.5,"hi":2.5},{"m":"DisCor","x":65,"y":1.49,"lo":0.6,"hi":2.6},{"m":"DisCor","x":67,"y":1.45,"lo":0.5,"hi":2.6},{"m":"DisCor","x":69,"y":1.37,"lo":0.4,"hi":2.7},{"m":"DisCor","x":71,"y":1.45,"lo":0.5,"hi":2.7},{"m":"DisCor","x":73,"y":1.81,"lo":0.8,"hi":2.9},{"m":"DisCor","x":75,"y":2.1,"lo":1,"hi":3},{"m":"DisCor","x":77,"y":2.31,"lo":1.2,"hi":3.3},{"m":"DisCor","x":79,"y":2.53,"lo":1.4,"hi":3.5},{"m":"DisCor","x":81,"y":2.75,"lo":1.5,"hi":3.8},{"m":"DisCor","x":82,"y":2.85,"lo":1.6,"hi":3.9},{"m":"DisCor","x":84,"y":2.6,"lo":1.6,"hi":4},{"m":"DisCor","x":86,"y":2.53,"lo":1.6,"hi":4},{"m":"DisCor","x":88,"y":2.64,"lo":1.8,"hi":4.2},{"m":"DisCor","x":90,"y":2.75,"lo":2,"hi":4.3},{"m":"DisCor","x":92,"y":2.96,"lo":2.2,"hi":4.2},{"m":"DisCor","x":94,"y":3.32,"lo":2.5,"hi":4.2},{"m":"DisCor","x":96,"y":3.28,"lo":2.6,"hi":4},{"m":"DisCor","x":98,"y":3.14,"lo":2.7,"hi":4},{"m":"DisCor","x":100,"y":3.22,"lo":2.8,"hi":4},
{"m":"ReMERN","x":4,"y":0,"lo":-0.1,"hi":0.1},{"m":"ReMERN","x":6,"y":0.02,"lo":-0.2,"hi":0.3},{"m":"ReMERN","x":8,"y":0.05,"lo":-0.4,"hi":0.4},{"m":"ReMERN","x":12,"y":0.02,"lo":-0.1,"hi":0.2},{"m":"ReMERN","x":15,"y":0,"lo":0,"hi":0.1},{"m":"ReMERN","x":20,"y":0.02,"lo":0,"hi":0.1},{"m":"ReMERN","x":25,"y":0.04,"lo":-0.1,"hi":0.2},{"m":"ReMERN","x":27,"y":0.1,"lo":-0.2,"hi":0.6},{"m":"ReMERN","x":29,"y":0.3,"lo":-0.5,"hi":1.5},{"m":"ReMERN","x":32,"y":0.36,"lo":-0.8,"hi":2.2},{"m":"ReMERN","x":34,"y":0.65,"lo":-0.9,"hi":2.6},{"m":"ReMERN","x":35,"y":1.08,"lo":-0.5,"hi":2.8},{"m":"ReMERN","x":37,"y":1.52,"lo":0,"hi":3.1},{"m":"ReMERN","x":38,"y":1.66,"lo":0.3,"hi":3.2},{"m":"ReMERN","x":40,"y":1.63,"lo":0.5,"hi":3.4},{"m":"ReMERN","x":42,"y":1.49,"lo":0.4,"hi":3.5},{"m":"ReMERN","x":44,"y":1.59,"lo":0.5,"hi":3.8},{"m":"ReMERN","x":46,"y":1.88,"lo":0.6,"hi":4},{"m":"ReMERN","x":48,"y":2.1,"lo":0.8,"hi":4.2},{"m":"ReMERN","x":50,"y":2.38,"lo":1,"hi":4.5},{"m":"ReMERN","x":52,"y":2.6,"lo":1.1,"hi":4.7},{"m":"ReMERN","x":54,"y":2.82,"lo":1.2,"hi":4.9},{"m":"ReMERN","x":56,"y":3,"lo":1.3,"hi":5},{"m":"ReMERN","x":58,"y":3.1,"lo":1.4,"hi":5.2},{"m":"ReMERN","x":60,"y":3.18,"lo":1.5,"hi":5.4},{"m":"ReMERN","x":62,"y":3.25,"lo":1.6,"hi":5.5},{"m":"ReMERN","x":64,"y":3.47,"lo":1.7,"hi":5.7},{"m":"ReMERN","x":66,"y":3.68,"lo":1.8,"hi":5.9},{"m":"ReMERN","x":68,"y":3.83,"lo":2,"hi":6},{"m":"ReMERN","x":69,"y":3.93,"lo":2,"hi":6.1},{"m":"ReMERN","x":71,"y":3.68,"lo":2,"hi":6},{"m":"ReMERN","x":73,"y":3.76,"lo":2.1,"hi":6},{"m":"ReMERN","x":75,"y":3.9,"lo":2.2,"hi":6},{"m":"ReMERN","x":77,"y":4.12,"lo":2.3,"hi":6.2},{"m":"ReMERN","x":79,"y":4.19,"lo":2.5,"hi":6.3},{"m":"ReMERN","x":81,"y":4.34,"lo":2.6,"hi":6.4},{"m":"ReMERN","x":83,"y":4.48,"lo":2.7,"hi":6.5},{"m":"ReMERN","x":85,"y":4.58,"lo":2.8,"hi":6.5},{"m":"ReMERN","x":87,"y":4.73,"lo":3,"hi":6.6},{"m":"ReMERN","x":89,"y":4.77,"lo":3,"hi":6.5},{"m":"ReMERN","x":91,"y":4.7,"lo":3,"hi":6.4},{"m":"ReMERN","x":93,"y":4.62,"lo":2.9,"hi":6.2},{"m":"ReMERN","x":95,"y":4.52,"lo":2.8,"hi":6.1},{"m":"ReMERN","x":97,"y":4.41,"lo":2.8,"hi":6.2},{"m":"ReMERN","x":99,"y":4.52,"lo":2.9,"hi":6.3},{"m":"ReMERN","x":100,"y":4.58,"lo":3,"hi":6.2}
],
"stickpull":[
{"m":"SAC","x":5,"y":0,"lo":-0.3,"hi":0.3},{"m":"SAC","x":8,"y":0.2,"lo":-0.5,"hi":0.8},{"m":"SAC","x":11,"y":0.44,"lo":-0.5,"hi":1},{"m":"SAC","x":14,"y":0.33,"lo":-0.8,"hi":1.2},{"m":"SAC","x":17,"y":0.25,"lo":-1,"hi":1.3},{"m":"SAC","x":20,"y":0.44,"lo":-0.3,"hi":1.5},{"m":"SAC","x":23,"y":0.6,"lo":-0.2,"hi":1.8},{"m":"SAC","x":26,"y":1.05,"lo":0,"hi":2.3},{"m":"SAC","x":29,"y":1.5,"lo":0.3,"hi":2.8},{"m":"SAC","x":32,"y":1.9,"lo":0.5,"hi":3.3},{"m":"SAC","x":35,"y":2.05,"lo":0.3,"hi":3.8},{"m":"SAC","x":38,"y":1.9,"lo":0,"hi":4.2},{"m":"SAC","x":41,"y":2.25,"lo":0,"hi":5},{"m":"SAC","x":44,"y":3.15,"lo":0.3,"hi":6},{"m":"SAC","x":46,"y":3.9,"lo":0.5,"hi":7},{"m":"SAC","x":48,"y":3.7,"lo":0.8,"hi":6.5},{"m":"SAC","x":50,"y":3.55,"lo":1,"hi":6},{"m":"SAC","x":53,"y":3.35,"lo":1,"hi":7},{"m":"SAC","x":56,"y":4.1,"lo":1.2,"hi":8.5},{"m":"SAC","x":59,"y":4.6,"lo":1.5,"hi":8},{"m":"SAC","x":61,"y":5.15,"lo":1.5,"hi":8},{"m":"SAC","x":64,"y":4.8,"lo":1.5,"hi":8.5},{"m":"SAC","x":67,"y":4.6,"lo":1.5,"hi":8.5},{"m":"SAC","x":70,"y":4.8,"lo":1.5,"hi":9},{"m":"SAC","x":73,"y":5,"lo":1.5,"hi":9},{"m":"SAC","x":76,"y":4.8,"lo":1.5,"hi":9},{"m":"SAC","x":78,"y":5.55,"lo":1.8,"hi":9.5},{"m":"SAC","x":81,"y":5.05,"lo":1.5,"hi":9},{"m":"SAC","x":84,"y":5,"lo":1.5,"hi":9.5},{"m":"SAC","x":87,"y":5.35,"lo":1.5,"hi":9.8},{"m":"SAC","x":90,"y":5.3,"lo":1.5,"hi":10},{"m":"SAC","x":93,"y":6.15,"lo":1.8,"hi":10},{"m":"SAC","x":95,"y":6.6,"lo":2,"hi":10},{"m":"SAC","x":97,"y":6.05,"lo":1.8,"hi":9.5},{"m":"SAC","x":99,"y":5,"lo":1.5,"hi":9},{"m":"SAC","x":101,"y":5.35,"lo":1.5,"hi":9},{"m":"SAC","x":104,"y":5.4,"lo":1.8,"hi":9},{"m":"SAC","x":107,"y":5.7,"lo":2,"hi":9},{"m":"SAC","x":110,"y":5,"lo":2,"hi":9},{"m":"SAC","x":113,"y":5.7,"lo":2.2,"hi":9.5},{"m":"SAC","x":116,"y":6.25,"lo":2.3,"hi":10},{"m":"SAC","x":119,"y":5.9,"lo":2.5,"hi":10},{"m":"SAC","x":122,"y":6.45,"lo":2.5,"hi":10},{"m":"SAC","x":125,"y":7,"lo":2.7,"hi":10.5},{"m":"SAC","x":128,"y":7.35,"lo":3,"hi":10.5},{"m":"SAC","x":131,"y":7.25,"lo":3,"hi":10.5},{"m":"SAC","x":134,"y":7.7,"lo":3,"hi":11},{"m":"SAC","x":136,"y":8,"lo":3,"hi":11},{"m":"SAC","x":138,"y":7.55,"lo":3,"hi":11},{"m":"SAC","x":141,"y":7.15,"lo":2.5,"hi":11},{"m":"SAC","x":144,"y":7.7,"lo":2,"hi":11.5},{"m":"SAC","x":147,"y":7.6,"lo":3,"hi":11.5},{"m":"SAC","x":150,"y":7.55,"lo":3.5,"hi":11.5},
{"m":"DisCor","x":5,"y":0,"lo":-0.2,"hi":0.2},{"m":"DisCor","x":8,"y":0.1,"lo":-0.3,"hi":0.5},{"m":"DisCor","x":11,"y":0.2,"lo":-0.4,"hi":0.7},{"m":"DisCor","x":14,"y":0.1,"lo":-0.5,"hi":0.7},{"m":"DisCor","x":17,"y":0.15,"lo":-0.4,"hi":0.8},{"m":"DisCor","x":20,"y":0.44,"lo":-0.3,"hi":1},{"m":"DisCor","x":23,"y":0.8,"lo":-0.1,"hi":1.6},{"m":"DisCor","x":26,"y":1.15,"lo":0.2,"hi":2},{"m":"DisCor","x":29,"y":1.5,"lo":0.4,"hi":2.5},{"m":"DisCor","x":32,"y":1.7,"lo":0.5,"hi":2.8},{"m":"DisCor","x":35,"y":2.05,"lo":0.6,"hi":3.3},{"m":"DisCor","x":37,"y":2.45,"lo":0.7,"hi":3.5},{"m":"DisCor","x":39,"y":2.15,"lo":0.5,"hi":3.4},{"m":"DisCor","x":42,"y":2.15,"lo":0.6,"hi":3.5},{"m":"DisCor","x":45,"y":2.35,"lo":0.8,"hi":3.8},{"m":"DisCor","x":48,"y":2.6,"lo":1,"hi":4},{"m":"DisCor","x":51,"y":2.8,"lo":1.1,"hi":4.2},{"m":"DisCor","x":54,"y":2.75,"lo":1.2,"hi":4.3},{"m":"DisCor","x":57,"y":2.9,"lo":1.3,"hi":4.5},{"m":"DisCor","x":60,"y":3,"lo":1.5,"hi":4.6},{"m":"DisCor","x":63,"y":3.15,"lo":1.5,"hi":4.8},{"m":"DisCor","x":66,"y":3,"lo":1.5,"hi":4.8},{"m":"DisCor","x":69,"y":3.15,"lo":1.6,"hi":5},{"m":"DisCor","x":72,"y":3.7,"lo":1.8,"hi":5.3},{"m":"DisCor","x":75,"y":4.1,"lo":2,"hi":5.6},{"m":"DisCor","x":78,"y":3.95,"lo":2,"hi":5.6},{"m":"DisCor","x":81,"y":3.9,"lo":2,"hi":5.7},{"m":"DisCor","x":84,"y":3.95,"lo":2.2,"hi":5.8},{"m":"DisCor","x":87,"y":4.25,"lo":2.4,"hi":6},{"m":"DisCor","x":90,"y":4.1,"lo":2.5,"hi":6},{"m":"DisCor","x":93,"y":4.45,"lo":2.5,"hi":6.2},{"m":"DisCor","x":96,"y":4.35,"lo":2.5,"hi":6.2},{"m":"DisCor","x":99,"y":4.35,"lo":2.6,"hi":6.3},{"m":"DisCor","x":102,"y":4.45,"lo":2.7,"hi":6.4},{"m":"DisCor","x":105,"y":4.35,"lo":2.8,"hi":6.5},{"m":"DisCor","x":108,"y":4.45,"lo":3,"hi":6.6},{"m":"DisCor","x":111,"y":4.6,"lo":3,"hi":6.8},{"m":"DisCor","x":114,"y":5,"lo":3.2,"hi":7},{"m":"DisCor","x":117,"y":5.3,"lo":3.5,"hi":7.2},{"m":"DisCor","x":120,"y":5,"lo":3.5,"hi":7.2},{"m":"DisCor","x":123,"y":5.35,"lo":3.7,"hi":7.5},{"m":"DisCor","x":126,"y":5.7,"lo":3.9,"hi":7.8},{"m":"DisCor","x":129,"y":6.1,"lo":4,"hi":8},{"m":"DisCor","x":131,"y":6.45,"lo":4.2,"hi":8.2},{"m":"DisCor","x":133,"y":6.1,"lo":4.2,"hi":8},{"m":"DisCor","x":136,"y":5.9,"lo":4.3,"hi":8},{"m":"DisCor","x":139,"y":6.15,"lo":4.5,"hi":8.2},{"m":"DisCor","x":142,"y":6.1,"lo":4.5,"hi":8.2},{"m":"DisCor","x":145,"y":5.9,"lo":4.7,"hi":8.3},{"m":"DisCor","x":148,"y":6.1,"lo":4.8,"hi":8.4},{"m":"DisCor","x":150,"y":6.35,"lo":5,"hi":8.5},
{"m":"ReMERN","x":5,"y":0,"lo":-0.2,"hi":0.2},{"m":"ReMERN","x":8,"y":0.15,"lo":-0.3,"hi":0.6},{"m":"ReMERN","x":10,"y":0.33,"lo":-0.3,"hi":0.9},{"m":"ReMERN","x":13,"y":0.25,"lo":-0.2,"hi":0.9},{"m":"ReMERN","x":16,"y":0.44,"lo":-0.1,"hi":1.2},{"m":"ReMERN","x":19,"y":0.7,"lo":0,"hi":1.5},{"m":"ReMERN","x":22,"y":0.8,"lo":0,"hi":1.8},{"m":"ReMERN","x":25,"y":1.35,"lo":0.3,"hi":2.5},{"m":"ReMERN","x":28,"y":1.9,"lo":0.6,"hi":3.2},{"m":"ReMERN","x":31,"y":2.45,"lo":0.9,"hi":3.8},{"m":"ReMERN","x":34,"y":2.6,"lo":1,"hi":4},{"m":"ReMERN","x":37,"y":2.45,"lo":1.2,"hi":4},{"m":"ReMERN","x":40,"y":3,"lo":1.5,"hi":4.5},{"m":"ReMERN","x":43,"y":2.8,"lo":1.5,"hi":4.5},{"m":"ReMERN","x":45,"y":2.45,"lo":1.3,"hi":4.5},{"m":"ReMERN","x":48,"y":3.55,"lo":1.8,"hi":5.5},{"m":"ReMERN","x":51,"y":3.9,"lo":2,"hi":6},{"m":"ReMERN","x":54,"y":4.25,"lo":2.3,"hi":6.5},{"m":"ReMERN","x":57,"y":4.8,"lo":2.6,"hi":7},{"m":"ReMERN","x":60,"y":5.35,"lo":3,"hi":7},{"m":"ReMERN","x":63,"y":5.55,"lo":3.2,"hi":7.2},{"m":"ReMERN","x":66,"y":5.15,"lo":3.3,"hi":7.2},{"m":"ReMERN","x":69,"y":5.35,"lo":3.5,"hi":7.5},{"m":"ReMERN","x":72,"y":5.65,"lo":3.5,"hi":7.5},{"m":"ReMERN","x":75,"y":5.35,"lo":3.5,"hi":7.5},{"m":"ReMERN","x":78,"y":5.45,"lo":3.5,"hi":7.6},{"m":"ReMERN","x":81,"y":5.15,"lo":3.5,"hi":7.5},{"m":"ReMERN","x":84,"y":5.3,"lo":3.3,"hi":7.8},{"m":"ReMERN","x":87,"y":5,"lo":3,"hi":7.8},{"m":"ReMERN","x":90,"y":5.35,"lo":3,"hi":8},{"m":"ReMERN","x":92,"y":4.8,"lo":3,"hi":8},{"m":"ReMERN","x":95,"y":5,"lo":3.2,"hi":8},{"m":"ReMERN","x":98,"y":6.25,"lo":3.8,"hi":8.3},{"m":"ReMERN","x":101,"y":7.35,"lo":4,"hi":8.5},{"m":"ReMERN","x":104,"y":7,"lo":4,"hi":8.5},{"m":"ReMERN","x":107,"y":5.9,"lo":3.8,"hi":8.3},{"m":"ReMERN","x":109,"y":5.8,"lo":3.5,"hi":8.3},{"m":"ReMERN","x":111,"y":6.6,"lo":3.8,"hi":9},{"m":"ReMERN","x":113,"y":7.9,"lo":4.5,"hi":10.5},{"m":"ReMERN","x":116,"y":8.6,"lo":5,"hi":12},{"m":"ReMERN","x":119,"y":8.8,"lo":5,"hi":14},{"m":"ReMERN","x":122,"y":9.7,"lo":5.5,"hi":14.5},{"m":"ReMERN","x":125,"y":11.2,"lo":7.5,"hi":14},{"m":"ReMERN","x":127,"y":11.45,"lo":8,"hi":13.5},{"m":"ReMERN","x":129,"y":10.8,"lo":8,"hi":12.5},{"m":"ReMERN","x":131,"y":9.7,"lo":7.5,"hi":12},{"m":"ReMERN","x":133,"y":8.8,"lo":7,"hi":12},{"m":"ReMERN","x":135,"y":8.8,"lo":6,"hi":12.5},{"m":"ReMERN","x":137,"y":10.45,"lo":7,"hi":14},{"m":"ReMERN","x":139,"y":12.1,"lo":8,"hi":15},{"m":"ReMERN","x":141,"y":12.35,"lo":8.5,"hi":16},{"m":"ReMERN","x":143,"y":12.45,"lo":9,"hi":16.5},{"m":"ReMERN","x":145,"y":12.65,"lo":9,"hi":17},{"m":"ReMERN","x":147,"y":13.2,"lo":9.5,"hi":17.5},{"m":"ReMERN","x":150,"y":13.8,"lo":10,"hi":17.5}
],
"faucet":[
{"m":"SAC","x":4,"y":0.45,"lo":0,"hi":0.8},{"m":"SAC","x":8,"y":0.95,"lo":0,"hi":2},{"m":"SAC","x":11,"y":1.15,"lo":-0.3,"hi":2.5},{"m":"SAC","x":14,"y":1.4,"lo":-0.5,"hi":3},{"m":"SAC","x":17,"y":1.15,"lo":-0.5,"hi":3.5},{"m":"SAC","x":20,"y":1.4,"lo":-0.5,"hi":4},{"m":"SAC","x":23,"y":1.3,"lo":-0.8,"hi":5},{"m":"SAC","x":26,"y":2.15,"lo":-1,"hi":6},{"m":"SAC","x":29,"y":3,"lo":-0.5,"hi":6.5},{"m":"SAC","x":32,"y":3.25,"lo":0,"hi":7},{"m":"SAC","x":35,"y":3,"lo":0,"hi":7},{"m":"SAC","x":38,"y":3.5,"lo":0,"hi":7.2},{"m":"SAC","x":42,"y":3,"lo":0,"hi":7},{"m":"SAC","x":46,"y":3.6,"lo":0,"hi":7.5},{"m":"SAC","x":50,"y":3.5,"lo":0.2,"hi":7.5},{"m":"SAC","x":54,"y":3.6,"lo":0.2,"hi":7.5},{"m":"SAC","x":58,"y":3.5,"lo":0.3,"hi":7.8},{"m":"SAC","x":62,"y":3.85,"lo":0.5,"hi":8},{"m":"SAC","x":66,"y":4.1,"lo":0.5,"hi":8},{"m":"SAC","x":70,"y":4,"lo":0.5,"hi":8},{"m":"SAC","x":74,"y":3.6,"lo":0.5,"hi":8},{"m":"SAC","x":78,"y":3.35,"lo":0.5,"hi":8},{"m":"SAC","x":82,"y":3.6,"lo":0.8,"hi":8.2},{"m":"SAC","x":86,"y":4.6,"lo":1,"hi":8.5},{"m":"SAC","x":90,"y":5.05,"lo":1,"hi":8.5},{"m":"SAC","x":94,"y":4.7,"lo":1.5,"hi":8.5},{"m":"SAC","x":98,"y":5.05,"lo":2,"hi":9},{"m":"SAC","x":102,"y":5.8,"lo":2.5,"hi":9.5},{"m":"SAC","x":106,"y":6.05,"lo":2.5,"hi":9.5},{"m":"SAC","x":110,"y":6.8,"lo":2.8,"hi":9.5},{"m":"SAC","x":114,"y":6.55,"lo":3,"hi":9.5},{"m":"SAC","x":118,"y":6.05,"lo":3,"hi":9.5},{"m":"SAC","x":122,"y":6.3,"lo":3,"hi":9.2},{"m":"SAC","x":126,"y":6.05,"lo":3,"hi":9},{"m":"SAC","x":130,"y":5.8,"lo":3,"hi":9},{"m":"SAC","x":134,"y":6.05,"lo":3,"hi":9.2},{"m":"SAC","x":138,"y":5.7,"lo":3,"hi":9},{"m":"SAC","x":142,"y":6.2,"lo":3,"hi":9.2},{"m":"SAC","x":146,"y":5.8,"lo":3,"hi":9.2},{"m":"SAC","x":150,"y":6.4,"lo":3,"hi":9.5},{"m":"SAC","x":154,"y":6.9,"lo":3.2,"hi":9.5},{"m":"SAC","x":158,"y":7.25,"lo":3.5,"hi":9.5},{"m":"SAC","x":162,"y":6.3,"lo":3.2,"hi":9.2},{"m":"SAC","x":166,"y":5.95,"lo":3,"hi":9},{"m":"SAC","x":170,"y":6.05,"lo":3,"hi":9},{"m":"SAC","x":174,"y":6.4,"lo":3,"hi":9},{"m":"SAC","x":178,"y":6.05,"lo":3,"hi":9},{"m":"SAC","x":182,"y":5.95,"lo":2.8,"hi":8.8},{"m":"SAC","x":186,"y":6.3,"lo":2.8,"hi":8.8},{"m":"SAC","x":190,"y":5.7,"lo":2.5,"hi":8.5},{"m":"SAC","x":194,"y":5.45,"lo":2.5,"hi":8.5},{"m":"SAC","x":198,"y":5.7,"lo":2.8,"hi":8.5},{"m":"SAC","x":202,"y":5.3,"lo":3,"hi":8.2},{"m":"SAC","x":206,"y":5.05,"lo":3,"hi":8},{"m":"SAC","x":210,"y":5.2,"lo":3,"hi":8},{"m":"SAC","x":214,"y":5.8,"lo":3.2,"hi":8.5},{"m":"SAC","x":218,"y":6.55,"lo":3.5,"hi":9},{"m":"SAC","x":222,"y":7.5,"lo":4,"hi":9.5},{"m":"SAC","x":226,"y":7.05,"lo":4,"hi":9.5},{"m":"SAC","x":230,"y":6.55,"lo":3.5,"hi":9.2},{"m":"SAC","x":234,"y":6.3,"lo":3.5,"hi":9},{"m":"SAC","x":238,"y":5.8,"lo":3,"hi":9},{"m":"SAC","x":242,"y":6.05,"lo":3,"hi":9},{"m":"SAC","x":246,"y":6.55,"lo":3,"hi":9},{"m":"SAC","x":250,"y":6.15,"lo":3,"hi":8.8},{"m":"SAC","x":254,"y":5.8,"lo":3,"hi":8.5},{"m":"SAC","x":258,"y":5.3,"lo":3,"hi":8.5},{"m":"SAC","x":262,"y":5.55,"lo":3,"hi":8.5},{"m":"SAC","x":266,"y":5.7,"lo":3,"hi":8.5},{"m":"SAC","x":270,"y":6.05,"lo":3,"hi":8.5},{"m":"SAC","x":274,"y":5.7,"lo":3,"hi":8.5},{"m":"SAC","x":278,"y":6.15,"lo":3,"hi":8.5},{"m":"SAC","x":282,"y":6.8,"lo":3.2,"hi":8.8},{"m":"SAC","x":286,"y":6.3,"lo":3,"hi":8.5},{"m":"SAC","x":290,"y":5.8,"lo":3,"hi":8.3},{"m":"SAC","x":294,"y":6.05,"lo":3,"hi":8.2},{"m":"SAC","x":297,"y":5.8,"lo":3,"hi":8},{"m":"SAC","x":300,"y":5.95,"lo":3,"hi":8},
{"m":"DisCor","x":4,"y":0.5,"lo":0.2,"hi":0.8},{"m":"DisCor","x":8,"y":0.9,"lo":0.3,"hi":1.5},{"m":"DisCor","x":11,"y":1.3,"lo":0.4,"hi":2},{"m":"DisCor","x":14,"y":1.25,"lo":0.4,"hi":2},{"m":"DisCor","x":17,"y":1.55,"lo":0.5,"hi":2.2},{"m":"DisCor","x":20,"y":1.4,"lo":0.5,"hi":2.2},{"m":"DisCor","x":23,"y":1.3,"lo":0.5,"hi":2},{"m":"DisCor","x":26,"y":1.55,"lo":0.5,"hi":2.3},{"m":"DisCor","x":29,"y":1.4,"lo":0.5,"hi":2.2},{"m":"DisCor","x":32,"y":1.3,"lo":0.5,"hi":2.1},{"m":"DisCor","x":36,"y":1.15,"lo":0.4,"hi":2},{"m":"DisCor","x":40,"y":1.1,"lo":0.4,"hi":2},{"m":"DisCor","x":44,"y":1.2,"lo":0.5,"hi":2.2},{"m":"DisCor","x":48,"y":1.3,"lo":0.5,"hi":2.3},{"m":"DisCor","x":52,"y":1.4,"lo":0.6,"hi":2.4},{"m":"DisCor","x":56,"y":1.55,"lo":0.7,"hi":2.5},{"m":"DisCor","x":60,"y":1.6,"lo":0.7,"hi":2.6},{"m":"DisCor","x":64,"y":1.65,"lo":0.7,"hi":2.7},{"m":"DisCor","x":68,"y":1.7,"lo":0.8,"hi":2.8},{"m":"DisCor","x":72,"y":1.9,"lo":0.8,"hi":3},{"m":"DisCor","x":76,"y":2.15,"lo":0.9,"hi":3.2},{"m":"DisCor","x":80,"y":2,"lo":0.8,"hi":3},{"m":"DisCor","x":84,"y":2,"lo":0.8,"hi":3},{"m":"DisCor","x":88,"y":2.15,"lo":0.8,"hi":3.2},{"m":"DisCor","x":92,"y":2.15,"lo":0.5,"hi":3.3},{"m":"DisCor","x":96,"y":2.2,"lo":0,"hi":3.5},{"m":"DisCor","x":98,"y":2.3,"lo":-0.2,"hi":3.8},{"m":"DisCor","x":100,"y":2.5,"lo":0.3,"hi":4},{"m":"DisCor","x":104,"y":2.9,"lo":0.6,"hi":4.5},{"m":"DisCor","x":108,"y":3.35,"lo":0.8,"hi":5},{"m":"DisCor","x":112,"y":3.85,"lo":1,"hi":5.5},{"m":"DisCor","x":116,"y":3.75,"lo":1.2,"hi":5.8},{"m":"DisCor","x":119,"y":4.35,"lo":1.5,"hi":6},{"m":"DisCor","x":122,"y":4.1,"lo":1.5,"hi":6.2},{"m":"DisCor","x":126,"y":4,"lo":1.5,"hi":6.2},{"m":"DisCor","x":130,"y":4.1,"lo":1.5,"hi":6.3},{"m":"DisCor","x":134,"y":4.35,"lo":1.8,"hi":6.5},{"m":"DisCor","x":138,"y":4.6,"lo":2,"hi":6.5},{"m":"DisCor","x":142,"y":4.1,"lo":2,"hi":6.2},{"m":"DisCor","x":146,"y":4,"lo":2,"hi":6.2},{"m":"DisCor","x":150,"y":4.6,"lo":2,"hi":6.5},{"m":"DisCor","x":154,"y":4.1,"lo":1.8,"hi":6.3},{"m":"DisCor","x":158,"y":4,"lo":1.8,"hi":6.3},{"m":"DisCor","x":162,"y":4.7,"lo":2,"hi":6.8},{"m":"DisCor","x":166,"y":4.85,"lo":2.2,"hi":6.8},{"m":"DisCor","x":170,"y":4.35,"lo":2,"hi":6.5},{"m":"DisCor","x":174,"y":4.1,"lo":2,"hi":6.3},{"m":"DisCor","x":178,"y":4.35,"lo":2,"hi":6.5},{"m":"DisCor","x":182,"y":4.2,"lo":2,"hi":6.5},{"m":"DisCor","x":186,"y":3.85,"lo":1.8,"hi":6.2},{"m":"DisCor","x":190,"y":4.2,"lo":1.8,"hi":6.3},{"m":"DisCor","x":194,"y":4,"lo":1.5,"hi":6.3},{"m":"DisCor","x":198,"y":4.6,"lo":1.8,"hi":6.8},{"m":"DisCor","x":202,"y":4.2,"lo":1.5,"hi":6.5},{"m":"DisCor","x":206,"y":4,"lo":1.5,"hi":6.3},{"m":"DisCor","x":210,"y":4.45,"lo":1.8,"hi":6.5},{"m":"DisCor","x":214,"y":4.1,"lo":1.5,"hi":6.3},{"m":"DisCor","x":218,"y":3.6,"lo":1.3,"hi":6},{"m":"DisCor","x":222,"y":3.75,"lo":1.5,"hi":6},{"m":"DisCor","x":226,"y":4.1,"lo":1.5,"hi":6.2},{"m":"DisCor","x":230,"y":3.75,"lo":1.5,"hi":6},{"m":"DisCor","x":234,"y":3.25,"lo":1.5,"hi":5.8},{"m":"DisCor","x":238,"y":3.5,"lo":1.8,"hi":6},{"m":"DisCor","x":242,"y":3.85,"lo":2,"hi":6.3},{"m":"DisCor","x":246,"y":4.45,"lo":2.2,"hi":6.8},{"m":"DisCor","x":250,"y":4.1,"lo":2.5,"hi":6.5},{"m":"DisCor","x":254,"y":3.6,"lo":2.5,"hi":6.5},{"m":"DisCor","x":258,"y":4.35,"lo":2.8,"hi":7},{"m":"DisCor","x":262,"y":5.45,"lo":3,"hi":7.5},{"m":"DisCor","x":266,"y":5.7,"lo":3,"hi":7.5},{"m":"DisCor","x":270,"y":5.3,"lo":3,"hi":7.5},{"m":"DisCor","x":274,"y":5.05,"lo":3,"hi":7.3},{"m":"DisCor","x":278,"y":5.2,"lo":3,"hi":7.3},{"m":"DisCor","x":282,"y":5.45,"lo":3.2,"hi":7.5},{"m":"DisCor","x":286,"y":5.8,"lo":3.3,"hi":7.6},{"m":"DisCor","x":290,"y":5.55,"lo":3.3,"hi":7.5},{"m":"DisCor","x":294,"y":5.45,"lo":3.4,"hi":7.5},{"m":"DisCor","x":297,"y":5.2,"lo":3.5,"hi":7.4},{"m":"DisCor","x":300,"y":5.45,"lo":3.5,"hi":7.5},
{"m":"ReMERN","x":4,"y":0.56,"lo":0,"hi":1},{"m":"ReMERN","x":8,"y":1.05,"lo":0,"hi":2},{"m":"ReMERN","x":11,"y":1.4,"lo":0,"hi":2.5},{"m":"ReMERN","x":14,"y":1.3,"lo":0,"hi":3},{"m":"ReMERN","x":17,"y":1.55,"lo":0,"hi":3.5},{"m":"ReMERN","x":20,"y":1.8,"lo":0,"hi":4},{"m":"ReMERN","x":23,"y":2.4,"lo":0.5,"hi":5.5},{"m":"ReMERN","x":26,"y":3,"lo":1,"hi":7},{"m":"ReMERN","x":29,"y":3.6,"lo":1,"hi":7.5},{"m":"ReMERN","x":32,"y":4,"lo":1,"hi":7.5},{"m":"ReMERN","x":35,"y":3.75,"lo":1,"hi":7.5},{"m":"ReMERN","x":38,"y":4.2,"lo":1,"hi":7.5},{"m":"ReMERN","x":42,"y":4.1,"lo":1,"hi":7.2},{"m":"ReMERN","x":46,"y":4.2,"lo":1,"hi":7.5},{"m":"ReMERN","x":50,"y":3.6,"lo":1,"hi":7},{"m":"ReMERN","x":54,"y":3.25,"lo":1,"hi":7},{"m":"ReMERN","x":58,"y":3.75,"lo":1.5,"hi":7.2},{"m":"ReMERN","x":62,"y":3.6,"lo":1.5,"hi":7},{"m":"ReMERN","x":66,"y":4.1,"lo":1.5,"hi":7.5},{"m":"ReMERN","x":70,"y":4.85,"lo":2,"hi":7.8},{"m":"ReMERN","x":74,"y":4.45,"lo":2,"hi":7.5},{"m":"ReMERN","x":78,"y":4.6,"lo":2,"hi":8},{"m":"ReMERN","x":82,"y":4.85,"lo":2.5,"hi":8.5},{"m":"ReMERN","x":86,"y":5.3,"lo":2.8,"hi":9},{"m":"ReMERN","x":90,"y":6.05,"lo":3,"hi":9.2},{"m":"ReMERN","x":94,"y":5.55,"lo":3,"hi":9},{"m":"ReMERN","x":98,"y":5.95,"lo":3,"hi":9.2},{"m":"ReMERN","x":102,"y":6.05,"lo":3,"hi":9},{"m":"ReMERN","x":106,"y":5.55,"lo":3,"hi":9},{"m":"ReMERN","x":110,"y":6.05,"lo":3,"hi":9.5},{"m":"ReMERN","x":114,"y":6.4,"lo":3.5,"hi":9.5},{"m":"ReMERN","x":118,"y":4.45,"lo":3,"hi":9},{"m":"ReMERN","x":120,"y":4.6,"lo":3,"hi":9},{"m":"ReMERN","x":123,"y":6.55,"lo":3.5,"hi":9.5},{"m":"ReMERN","x":127,"y":6.8,"lo":3.8,"hi":10},{"m":"ReMERN","x":131,"y":7.9,"lo":4,"hi":10.5},{"m":"ReMERN","x":135,"y":7.4,"lo":4,"hi":10.2},{"m":"ReMERN","x":139,"y":7.05,"lo":4,"hi":10},{"m":"ReMERN","x":143,"y":7.65,"lo":4,"hi":10},{"m":"ReMERN","x":147,"y":7.25,"lo":3.8,"hi":10},{"m":"ReMERN","x":151,"y":5.8,"lo":3.5,"hi":9.8},{"m":"ReMERN","x":155,"y":5.55,"lo":3.5,"hi":9.5},{"m":"ReMERN","x":159,"y":6.55,"lo":4,"hi":10},{"m":"ReMERN","x":163,"y":6.3,"lo":4,"hi":10},{"m":"ReMERN","x":167,"y":6.8,"lo":4.2,"hi":10},{"m":"ReMERN","x":171,"y":7.4,"lo":4.5,"hi":10},{"m":"ReMERN","x":175,"y":7.15,"lo":4.5,"hi":10},{"m":"ReMERN","x":179,"y":7.4,"lo":4.5,"hi":10.2},{"m":"ReMERN","x":183,"y":6.8,"lo":4.2,"hi":10},{"m":"ReMERN","x":187,"y":7.15,"lo":4,"hi":10},{"m":"ReMERN","x":191,"y":7.5,"lo":4,"hi":10},{"m":"ReMERN","x":195,"y":7.9,"lo":4,"hi":10.3},{"m":"ReMERN","x":199,"y":8,"lo":4,"hi":10.5},{"m":"ReMERN","x":203,"y":7.75,"lo":4,"hi":10.2},{"m":"ReMERN","x":207,"y":7.5,"lo":3.8,"hi":10},{"m":"ReMERN","x":211,"y":6.55,"lo":3.5,"hi":10},{"m":"ReMERN","x":214,"y":5.3,"lo":3.5,"hi":9.5},{"m":"ReMERN","x":217,"y":6.55,"lo":4,"hi":10.5},{"m":"ReMERN","x":220,"y":8.5,"lo":5,"hi":11},{"m":"ReMERN","x":224,"y":9,"lo":5,"hi":11.5},{"m":"ReMERN","x":228,"y":8.1,"lo":5,"hi":11.2},{"m":"ReMERN","x":232,"y":7.65,"lo":4.5,"hi":11},{"m":"ReMERN","x":236,"y":7.5,"lo":4,"hi":10.5},{"m":"ReMERN","x":240,"y":6.55,"lo":3.5,"hi":10},{"m":"ReMERN","x":244,"y":6.05,"lo":3.5,"hi":10},{"m":"ReMERN","x":248,"y":7.25,"lo":4,"hi":10.5},{"m":"ReMERN","x":252,"y":9.1,"lo":4.5,"hi":11},{"m":"ReMERN","x":256,"y":8.6,"lo":4.5,"hi":11},{"m":"ReMERN","x":260,"y":8.25,"lo":4.5,"hi":11},{"m":"ReMERN","x":264,"y":8,"lo":4.2,"hi":10.5},{"m":"ReMERN","x":268,"y":8.75,"lo":4,"hi":10.5},{"m":"ReMERN","x":272,"y":8,"lo":4,"hi":10},{"m":"ReMERN","x":275,"y":6.3,"lo":3.8,"hi":9.5},{"m":"ReMERN","x":278,"y":6.55,"lo":3.5,"hi":9},{"m":"ReMERN","x":281,"y":6.9,"lo":3.5,"hi":9},{"m":"ReMERN","x":284,"y":6.05,"lo":3.5,"hi":8.8},{"m":"ReMERN","x":287,"y":5.8,"lo":3.5,"hi":8.5},{"m":"ReMERN","x":290,"y":6.55,"lo":3.5,"hi":8.5},{"m":"ReMERN","x":294,"y":6.15,"lo":3.5,"hi":8.2},{"m":"ReMERN","x":297,"y":5.8,"lo":3.5,"hi":8},{"m":"ReMERN","x":300,"y":5.55,"lo":3.5,"hi":8}
]
},
"columns":4,
"spacing":{"row":47,"column":44.5},
"bounds":"flush",
"resolve":{"scale":{"color":"independent"}},
"concat":[
{"width":221,"height":190,"title":"push","data":{"name":"push"},"layer":[
{"mark":"area","encoding":{"x":{"field":"x","type":"quantitative","scale":{"domain":[-0.2,104.5],"nice":false,"zero":false},"axis":{"values":[0,25,50,75,100],"title":null}},"y":{"field":"lo","type":"quantitative","scale":{"domain":[-4.44,16.25],"nice":false,"zero":false},"axis":{"values":[0,5,10,15],"title":"Reward","format":"d"}},"y2":{"field":"hi"},"color":{"field":"m","type":"nominal","scale":{"domain":["SAC","DisCor","ReMERN"],"range":["#0000FF","#008000","#FF0000"]},"legend":{"orient":"none","legendX":9,"legendY":9,"title":null,"symbolType":"M-1.5,0H1.5","symbolSize":324,"symbolStrokeWidth":1.8,"symbolOpacity":1,"symbolFillColor":"transparent","labelFont":"DejaVu Sans","labelFontSize":13.2,"labelColor":"#262626","labelOffset":17,"padding":4,"rowPadding":2,"fillColor":"rgba(234,234,242,0.85)","strokeColor":"#D0D0D8","cornerRadius":3}}}},
{"mark":"line","encoding":{"x":{"field":"x","type":"quantitative","scale":{"domain":[-0.2,104.5],"nice":false,"zero":false},"axis":{"values":[0,25,50,75,100],"title":null}},"y":{"field":"y","type":"quantitative","scale":{"domain":[-4.44,16.25],"nice":false,"zero":false},"axis":{"values":[0,5,10,15],"title":"Reward","format":"d"}},"color":{"field":"m","type":"nominal","scale":{"domain":["SAC","DisCor","ReMERN"],"range":["#0000FF","#008000","#FF0000"]},"legend":{"orient":"none","legendX":9,"legendY":9,"title":null,"symbolType":"M-1.5,0H1.5","symbolSize":324,"symbolStrokeWidth":1.8,"symbolOpacity":1,"symbolFillColor":"transparent","labelFont":"DejaVu Sans","labelFontSize":13.2,"labelColor":"#262626","labelOffset":17,"padding":4,"rowPadding":2,"fillColor":"rgba(234,234,242,0.85)","strokeColor":"#D0D0D8","cornerRadius":3}}}},
{"data":{"values":[{"s":"1e4"}]},"mark":{"type":"text","align":"left","baseline":"alphabetic","dy":-2},"encoding":{"x":{"datum":-0.2,"type":"quantitative"},"y":{"datum":16.25,"type":"quantitative"},"text":{"field":"s"}}},
{"data":{"values":[{"s":"1e4"}]},"mark":{"type":"text","align":"right","baseline":"alphabetic","dy":28.5},"encoding":{"x":{"datum":104.5,"type":"quantitative"},"y":{"datum":-4.44,"type":"quantitative"},"text":{"field":"s"}}}
]},
{"width":221,"height":190,"title":"hammer","data":{"name":"hammer"},"layer":[
{"mark":"area","encoding":{"x":{"field":"x","type":"quantitative","scale":{"domain":[-0.2,104.5],"nice":false,"zero":false},"axis":{"values":[0,25,50,75,100],"title":null}},"y":{"field":"lo","type":"quantitative","scale":{"domain":[-2.22,13.14],"nice":false,"zero":false},"axis":{"values":[0,5,10],"title":null,"format":"d"}},"y2":{"field":"hi"},"color":{"field":"m","type":"nominal","scale":{"domain":["SAC","DisCor","ReMERN"],"range":["#0000FF","#008000","#FF0000"]},"legend":null}}},
{"mark":"line","encoding":{"x":{"field":"x","type":"quantitative","scale":{"domain":[-0.2,104.5],"nice":false,"zero":false},"axis":{"values":[0,25,50,75,100],"title":null}},"y":{"field":"y","type":"quantitative","scale":{"domain":[-2.22,13.14],"nice":false,"zero":false},"axis":{"values":[0,5,10],"title":null,"format":"d"}},"color":{"field":"m","type":"nominal","scale":{"domain":["SAC","DisCor","ReMERN"],"range":["#0000FF","#008000","#FF0000"]},"legend":null}}},
{"data":{"values":[{"s":"1e4"}]},"mark":{"type":"text","align":"left","baseline":"alphabetic","dy":-2},"encoding":{"x":{"datum":-0.2,"type":"quantitative"},"y":{"datum":13.14,"type":"quantitative"},"text":{"field":"s"}}},
{"data":{"values":[{"s":"1e4"}]},"mark":{"type":"text","align":"right","baseline":"alphabetic","dy":28.5},"encoding":{"x":{"datum":104.5,"type":"quantitative"},"y":{"datum":-2.22,"type":"quantitative"},"text":{"field":"s"}}}
]},
{"width":221,"height":190,"title":"sweep","data":{"name":"sweep"},"layer":[
{"mark":"area","encoding":{"x":{"field":"x","type":"quantitative","scale":{"domain":[-0.2,104.5],"nice":false,"zero":false},"axis":{"values":[0,25,50,75,100],"title":null}},"y":{"field":"lo","type":"quantitative","scale":{"domain":[-3.42,21.75],"nice":false,"zero":false},"axis":{"values":[0,5,10,15,20],"title":null,"format":"d"}},"y2":{"field":"hi"},"color":{"field":"m","type":"nominal","scale":{"domain":["SAC","DisCor","ReMERN"],"range":["#0000FF","#008000","#FF0000"]},"legend":null}}},
{"mark":"line","encoding":{"x":{"field":"x","type":"quantitative","scale":{"domain":[-0.2,104.5],"nice":false,"zero":false},"axis":{"values":[0,25,50,75,100],"title":null}},"y":{"field":"y","type":"quantitative","scale":{"domain":[-3.42,21.75],"nice":false,"zero":false},"axis":{"values":[0,5,10,15,20],"title":null,"format":"d"}},"color":{"field":"m","type":"nominal","scale":{"domain":["SAC","DisCor","ReMERN"],"range":["#0000FF","#008000","#FF0000"]},"legend":null}}},
{"data":{"values":[{"s":"1e4"}]},"mark":{"type":"text","align":"left","baseline":"alphabetic","dy":-2},"encoding":{"x":{"datum":-0.2,"type":"quantitative"},"y":{"datum":21.75,"type":"quantitative"},"text":{"field":"s"}}},
{"data":{"values":[{"s":"1e4"}]},"mark":{"type":"text","align":"right","baseline":"alphabetic","dy":28.5},"encoding":{"x":{"datum":104.5,"type":"quantitative"},"y":{"datum":-3.42,"type":"quantitative"},"text":{"field":"s"}}}
]},
{"width":221,"height":190,"title":"pick-place","data":{"name":"pickplace"},"layer":[
{"mark":"area","encoding":{"x":{"field":"x","type":"quantitative","scale":{"domain":[-0.2,104.5],"nice":false,"zero":false},"axis":{"values":[0,25,50,75,100],"title":null}},"y":{"field":"lo","type":"quantitative","scale":{"domain":[-4.4,10.33],"nice":false,"zero":false},"axis":{"values":[-2.5,0,2.5,5,7.5,10],"tickCount":10,"title":null,"format":".1f","labelOverlap":false}},"y2":{"field":"hi"},"color":{"field":"m","type":"nominal","scale":{"domain":["SAC","DisCor","ReMERN"],"range":["#0000FF","#008000","#FF0000"]},"legend":null}}},
{"mark":"line","encoding":{"x":{"field":"x","type":"quantitative","scale":{"domain":[-0.2,104.5],"nice":false,"zero":false},"axis":{"values":[0,25,50,75,100],"title":null}},"y":{"field":"y","type":"quantitative","scale":{"domain":[-4.4,10.33],"nice":false,"zero":false},"axis":{"values":[-2.5,0,2.5,5,7.5,10],"tickCount":10,"title":null,"format":".1f","labelOverlap":false}},"color":{"field":"m","type":"nominal","scale":{"domain":["SAC","DisCor","ReMERN"],"range":["#0000FF","#008000","#FF0000"]},"legend":null}}},
{"data":{"values":[{"s":"1e4"}]},"mark":{"type":"text","align":"left","baseline":"alphabetic","dy":-2},"encoding":{"x":{"datum":-0.2,"type":"quantitative"},"y":{"datum":10.33,"type":"quantitative"},"text":{"field":"s"}}},
{"data":{"values":[{"s":"1e4"}]},"mark":{"type":"text","align":"right","baseline":"alphabetic","dy":28.5},"encoding":{"x":{"datum":104.5,"type":"quantitative"},"y":{"datum":-4.4,"type":"quantitative"},"text":{"field":"s"}}}
]},
{"width":221,"height":190,"title":"peg-insert-side","data":{"name":"peg"},"layer":[
{"mark":"area","encoding":{"x":{"field":"x","type":"quantitative","scale":{"domain":[-0.2,104.5],"nice":false,"zero":false},"axis":{"values":[0,25,50,75,100],"title":"Timestep"}},"y":{"field":"lo","type":"quantitative","scale":{"domain":[-3.27,13.74],"nice":false,"zero":false},"axis":{"values":[0,5,10],"title":"Reward","format":"d"}},"y2":{"field":"hi"},"color":{"field":"m","type":"nominal","scale":{"domain":["SAC","DisCor","ReMERN"],"range":["#0000FF","#008000","#FF0000"]},"legend":null}}},
{"mark":"line","encoding":{"x":{"field":"x","type":"quantitative","scale":{"domain":[-0.2,104.5],"nice":false,"zero":false},"axis":{"values":[0,25,50,75,100],"title":"Timestep"}},"y":{"field":"y","type":"quantitative","scale":{"domain":[-3.27,13.74],"nice":false,"zero":false},"axis":{"values":[0,5,10],"title":"Reward","format":"d"}},"color":{"field":"m","type":"nominal","scale":{"domain":["SAC","DisCor","ReMERN"],"range":["#0000FF","#008000","#FF0000"]},"legend":null}}},
{"data":{"values":[{"s":"1e4"}]},"mark":{"type":"text","align":"left","baseline":"alphabetic","dy":-2},"encoding":{"x":{"datum":-0.2,"type":"quantitative"},"y":{"datum":13.74,"type":"quantitative"},"text":{"field":"s"}}},
{"data":{"values":[{"s":"1e4"}]},"mark":{"type":"text","align":"right","baseline":"alphabetic","dy":27},"encoding":{"x":{"datum":104.5,"type":"quantitative"},"y":{"datum":-3.27,"type":"quantitative"},"text":{"field":"s"}}}
]},
{"width":221,"height":190,"title":"stick-push","data":{"name":"stickpush"},"layer":[
{"mark":"area","encoding":{"x":{"field":"x","type":"quantitative","scale":{"domain":[-0.2,104.5],"nice":false,"zero":false},"axis":{"values":[0,25,50,75,100],"title":"Timestep"}},"y":{"field":"lo","type":"quantitative","scale":{"domain":[-1.25,6.99],"nice":false,"zero":false},"axis":{"values":[0,2,4,6],"title":null,"format":"d"}},"y2":{"field":"hi"},"color":{"field":"m","type":"nominal","scale":{"domain":["SAC","DisCor","ReMERN"],"range":["#0000FF","#008000","#FF0000"]},"legend":null}}},
{"mark":"line","encoding":{"x":{"field":"x","type":"quantitative","scale":{"domain":[-0.2,104.5],"nice":false,"zero":false},"axis":{"values":[0,25,50,75,100],"title":"Timestep"}},"y":{"field":"y","type":"quantitative","scale":{"domain":[-1.25,6.99],"nice":false,"zero":false},"axis":{"values":[0,2,4,6],"title":null,"format":"d"}},"color":{"field":"m","type":"nominal","scale":{"domain":["SAC","DisCor","ReMERN"],"range":["#0000FF","#008000","#FF0000"]},"legend":null}}},
{"data":{"values":[{"s":"1e4"}]},"mark":{"type":"text","align":"left","baseline":"alphabetic","dy":-2},"encoding":{"x":{"datum":-0.2,"type":"quantitative"},"y":{"datum":6.99,"type":"quantitative"},"text":{"field":"s"}}},
{"data":{"values":[{"s":"1e4"}]},"mark":{"type":"text","align":"right","baseline":"alphabetic","dy":27},"encoding":{"x":{"datum":104.5,"type":"quantitative"},"y":{"datum":-1.25,"type":"quantitative"},"text":{"field":"s"}}}
]},
{"width":221,"height":190,"title":"stick-pull","data":{"name":"stickpull"},"layer":[
{"mark":"area","encoding":{"x":{"field":"x","type":"quantitative","scale":{"domain":[-2.4,157.2],"nice":false,"zero":false},"axis":{"values":[0,50,100,150],"title":"Timestep"}},"y":{"field":"lo","type":"quantitative","scale":{"domain":[-1.99,18.77],"nice":false,"zero":false},"axis":{"values":[0,5,10,15],"title":null,"format":"d"}},"y2":{"field":"hi"},"color":{"field":"m","type":"nominal","scale":{"domain":["SAC","DisCor","ReMERN"],"range":["#0000FF","#008000","#FF0000"]},"legend":null}}},
{"mark":"line","encoding":{"x":{"field":"x","type":"quantitative","scale":{"domain":[-2.4,157.2],"nice":false,"zero":false},"axis":{"values":[0,50,100,150],"title":"Timestep"}},"y":{"field":"y","type":"quantitative","scale":{"domain":[-1.99,18.77],"nice":false,"zero":false},"axis":{"values":[0,5,10,15],"title":null,"format":"d"}},"color":{"field":"m","type":"nominal","scale":{"domain":["SAC","DisCor","ReMERN"],"range":["#0000FF","#008000","#FF0000"]},"legend":null}}},
{"data":{"values":[{"s":"1e4"}]},"mark":{"type":"text","align":"left","baseline":"alphabetic","dy":-2},"encoding":{"x":{"datum":-2.4,"type":"quantitative"},"y":{"datum":18.77,"type":"quantitative"},"text":{"field":"s"}}},
{"data":{"values":[{"s":"1e4"}]},"mark":{"type":"text","align":"right","baseline":"alphabetic","dy":27},"encoding":{"x":{"datum":157.2,"type":"quantitative"},"y":{"datum":-1.99,"type":"quantitative"},"text":{"field":"s"}}}
]},
{"width":221,"height":190,"title":"faucet-close","data":{"name":"faucet"},"layer":[
{"mark":"area","encoding":{"x":{"field":"x","type":"quantitative","scale":{"domain":[-10,315.5],"nice":false,"zero":false},"axis":{"values":[0,100,200,300],"title":"Timestep"}},"y":{"field":"lo","type":"quantitative","scale":{"domain":[-1.64,12.37],"nice":false,"zero":false},"axis":{"values":[0,2.5,5,7.5,10],"tickCount":10,"title":null,"format":".1f","labelOverlap":false}},"y2":{"field":"hi"},"color":{"field":"m","type":"nominal","scale":{"domain":["SAC","DisCor","ReMERN"],"range":["#0000FF","#008000","#FF0000"]},"legend":null}}},
{"mark":"line","encoding":{"x":{"field":"x","type":"quantitative","scale":{"domain":[-10,315.5],"nice":false,"zero":false},"axis":{"values":[0,100,200,300],"title":"Timestep"}},"y":{"field":"y","type":"quantitative","scale":{"domain":[-1.64,12.37],"nice":false,"zero":false},"axis":{"values":[0,2.5,5,7.5,10],"tickCount":10,"title":null,"format":".1f","labelOverlap":false}},"color":{"field":"m","type":"nominal","scale":{"domain":["SAC","DisCor","ReMERN"],"range":["#0000FF","#008000","#FF0000"]},"legend":null}}},
{"data":{"values":[{"s":"1e4"}]},"mark":{"type":"text","align":"left","baseline":"alphabetic","dy":-2},"encoding":{"x":{"datum":-10,"type":"quantitative"},"y":{"datum":12.37,"type":"quantitative"},"text":{"field":"s"}}},
{"data":{"values":[{"s":"1e4"}]},"mark":{"type":"text","align":"right","baseline":"alphabetic","dy":27},"encoding":{"x":{"datum":315.5,"type":"quantitative"},"y":{"datum":-1.64,"type":"quantitative"},"text":{"field":"s"}}}
]}
]
}
